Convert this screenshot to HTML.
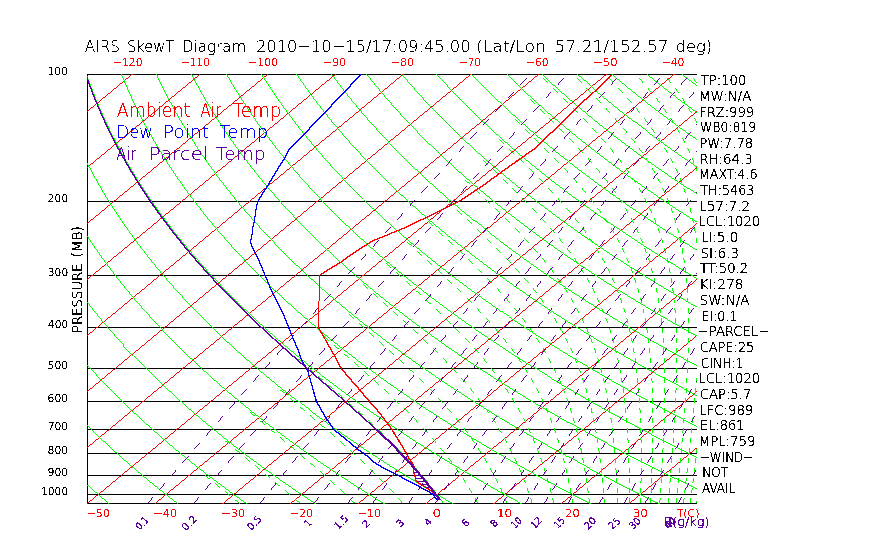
<!DOCTYPE html>
<html><head><meta charset="utf-8"><title>AIRS SkewT Diagram</title><style>html,body{margin:0;padding:0;background:#fff;width:870px;height:560px;overflow:hidden}svg{display:block}text{font-family:"DejaVu Sans","Liberation Sans",sans-serif;font-weight:200;stroke-width:0.2px}</style></head><body>
<svg width="870" height="560" viewBox="0 0 870 560">
<rect width="870" height="560" fill="#fff"/>
<defs><clipPath id="c"><rect x="87" y="74" width="610" height="430"/></clipPath><filter id="th" filterUnits="userSpaceOnUse" x="0" y="0" width="870" height="560" color-interpolation-filters="sRGB"><feComponentTransfer><feFuncA type="discrete" tableValues="0 1 1 1 1"/></feComponentTransfer></filter><filter id="tt" filterUnits="userSpaceOnUse" x="0" y="0" width="870" height="560" color-interpolation-filters="sRGB"><feComponentTransfer><feFuncA type="discrete" tableValues="0 0 1 1 1"/></feComponentTransfer></filter></defs>
<path fill="none" stroke="#000" stroke-width="1" shape-rendering="crispEdges" d="M87,74.5H697M87,201.5H697M87,275.5H697M87,327.5H697M87,368.5H697M87,401.5H697M87,429.5H697M87,453.5H697M87,475.5H697M87,494.5H697M87,503.5H697M87.5,74V504"/>
<g clip-path="url(#c)"><g filter="url(#th)" fill="none" shape-rendering="crispEdges">
<path stroke="#ff0000" stroke-width="0.75" d="M75.06,65.49 -464.75,511.9M142.81,65.49 -397,511.9M210.56,65.49 -329.25,511.9M278.31,65.49 -261.5,511.9M346.06,65.49 -193.75,511.9M413.81,65.49 -126,511.9M481.56,65.49 -58.25,511.9M549.31,65.49 9.5,511.9M617.06,65.49 77.25,511.9M684.81,65.49 145,511.9M752.56,65.49 212.75,511.9M820.31,65.49 280.5,511.9M888.06,65.49 348.25,511.9M955.81,65.49 416,511.9M1023.56,65.49 483.75,511.9M1091.31,65.49 551.5,511.9M1159.06,65.49 619.25,511.9M1226.81,65.49 687,511.9"/>
<path stroke="#00ff00" stroke-width="0.7" d="M34.21,433.78 45,444.94 56.22,456.1 67.88,467.26M73.35,411.46 84.36,422.62 95.8,433.78M99.28,377.98 110.03,389.14 121.21,400.3 132.82,411.46M133.52,355.66 144.39,366.82 155.7,377.98 167.45,389.14M165.63,333.34 176.6,344.5 188,355.66M195.75,311.02 206.78,322.18 218.23,333.34M213.4,277.54 224.02,288.7 235.07,299.86 246.55,311.02M239.94,255.22 250.55,266.38 261.59,277.54 273.06,288.7M275.48,244.06 286.48,255.22 297.91,266.38M298.89,221.74 309.83,232.9 321.2,244.06M320.91,199.41 331.76,210.58 343.04,221.74 354.76,232.9M341.64,177.09 352.38,188.25 363.54,199.41 375.15,210.58M361.16,154.77 371.77,165.93 382.8,177.09 394.27,188.25M390.03,143.61 400.91,154.77 412.22,165.93M407.24,121.29 417.95,132.45 429.08,143.61 440.65,154.77M434.01,110.13 444.95,121.29 456.33,132.45M449.18,87.81 459.91,98.97 471.07,110.13 482.67,121.29M474.02,76.65 484.96,87.81 496.32,98.97M498.06,65.49 509.18,76.65 520.74,87.81M532.61,65.49 544.34,76.65"/><path stroke="#00ff00" stroke-width="0.75" d="M-4.81,389.14 4.34,400.3 13.88,411.46 23.84,422.62 34.21,433.78M67.88,467.26 79.98,478.42 92.54,489.58 105.56,500.74 119.04,511.9M33.51,366.82 42.85,377.98 52.61,389.14 62.77,400.3 73.35,411.46M95.8,433.78 107.68,444.94 120.01,456.1 132.79,467.26 146.04,478.42M60.42,333.34 69.53,344.5 79.03,355.66 88.95,366.82 99.28,377.98M132.82,411.46 144.88,422.62 157.39,433.78 170.36,444.94 183.79,456.1M94.16,311.02 103.39,322.18 113.02,333.34 123.06,344.5 133.52,355.66M167.45,389.14 179.64,400.3 192.29,411.46 205.4,422.62 218.97,433.78M125.93,288.7 135.24,299.86 144.96,311.02 155.08,322.18 165.63,333.34M188,355.66 199.84,366.82 212.12,377.98 224.87,389.14 238.08,400.3 251.75,411.46M155.84,266.38 165.21,277.54 174.97,288.7 185.15,299.86 195.75,311.02M218.23,333.34 230.13,344.5 242.48,355.66 255.28,366.82 268.55,377.98M184.02,244.06 193.41,255.22 203.2,266.38 213.4,277.54M246.55,311.02 258.47,322.18 270.84,333.34 283.66,344.5 296.96,355.66M210.59,221.74 219.97,232.9 229.75,244.06 239.94,255.22M273.06,288.7 284.98,299.86 297.34,311.02 310.16,322.18 323.44,333.34M235.65,199.41 244.99,210.58 254.74,221.74 264.9,232.9 275.48,244.06M297.91,266.38 309.79,277.54 322.11,288.7 334.89,299.86 348.13,311.02M259.31,177.09 268.59,188.25 278.28,199.41 288.38,210.58 298.89,221.74M321.2,244.06 333.01,255.22 345.27,266.38 357.98,277.54 371.15,288.7 384.8,299.86M281.67,154.77 290.87,165.93 300.47,177.09 310.49,188.25 320.91,199.41M354.76,232.9 366.93,244.06 379.54,255.22 392.62,266.38 406.17,277.54M311.91,143.61 321.41,154.77 331.32,165.93 341.64,177.09M375.15,210.58 387.2,221.74 399.69,232.9 412.65,244.06 426.08,255.22M331.82,121.29 341.19,132.45 350.97,143.61 361.16,154.77M394.27,188.25 406.18,199.41 418.53,210.58 431.35,221.74 444.63,232.9M350.67,98.97 359.9,110.13 369.53,121.29 379.57,132.45 390.03,143.61M412.22,165.93 423.96,177.09 436.16,188.25 448.81,199.41 461.92,210.58 475.5,221.74M377.61,87.81 387.08,98.97 396.96,110.13 407.24,121.29M440.65,154.77 452.66,165.93 465.13,177.09 478.05,188.25 491.44,199.41M394.42,65.49 403.71,76.65 413.4,87.81 423.5,98.97 434.01,110.13M456.33,132.45 468.14,143.61 480.4,154.77 493.11,165.93 506.29,177.09 519.94,188.25M428.97,65.49 438.87,76.65 449.18,87.81M482.67,121.29 494.7,132.45 507.2,143.61 520.15,154.77 533.56,165.93M463.52,65.49 474.02,76.65M496.32,98.97 508.13,110.13 520.38,121.29 533.08,132.45 546.25,143.61 559.89,154.77M520.74,87.81 532.74,98.97 545.18,110.13 558.09,121.29 571.46,132.45M544.34,76.65 556.52,87.81 569.15,98.97 582.24,110.13 595.8,121.29M567.16,65.49 579.5,76.65 592.3,87.81 605.56,98.97M601.71,65.49 614.66,76.65 628.08,87.81M636.26,65.49 649.82,76.65"/><path stroke="#00ff00" stroke-width="0.8" d="M-29.93,355.66 -21.94,366.82 -13.57,377.98 -4.81,389.14M0.01,322.18 7.81,333.34 15.99,344.5 24.55,355.66 33.51,366.82M146.04,478.42 159.77,489.58 173.97,500.74 188.66,511.9M35.42,299.86 43.37,311.02 51.7,322.18 60.42,333.34M183.79,456.1 197.7,467.26 212.1,478.42 226.99,489.58 242.38,500.74 258.28,511.9M61.13,266.38 68.82,277.54 76.88,288.7 85.33,299.86 94.16,311.02M218.97,433.78 233.03,444.94 247.58,456.1 262.62,467.26 278.16,478.42 294.22,489.58M92.57,244.06 100.34,255.22 108.49,266.38 117.01,277.54 125.93,288.7M251.75,411.46 265.91,422.62 280.56,433.78 295.71,444.94 311.36,456.1 327.53,467.26M122.29,221.74 130.1,232.9 138.3,244.06 146.87,255.22 155.84,266.38M268.55,377.98 282.29,389.14 296.51,400.3 311.22,411.46 326.43,422.62 342.15,433.78 358.38,444.94M150.39,199.41 158.22,210.58 166.44,221.74 175.04,232.9 184.02,244.06M296.96,355.66 310.72,366.82 324.97,377.98 339.71,389.14 354.95,400.3 370.69,411.46 386.95,422.62M176.98,177.09 184.81,188.25 193.02,199.41 201.61,210.58 210.59,221.74M323.44,333.34 337.2,344.5 351.44,355.66 366.17,366.82 381.39,377.98 397.13,389.14 413.38,400.3M202.17,154.77 209.97,165.93 218.15,177.09 226.7,188.25 235.65,199.41M348.13,311.02 361.85,322.18 376.05,333.34 390.73,344.5 405.92,355.66 421.61,366.82 437.82,377.98M226.06,132.45 233.8,143.61 241.92,154.77 250.42,165.93 259.31,177.09M384.8,299.86 398.93,311.02 413.54,322.18 428.65,333.34 444.27,344.5 460.4,355.66M248.73,110.13 256.4,121.29 264.44,132.45 272.86,143.61 281.67,154.77M406.17,277.54 420.2,288.7 434.71,299.86 449.72,311.02 465.23,322.18 481.26,333.34M277.84,98.97 285.79,110.13 294.11,121.29 302.81,132.45 311.91,143.61M426.08,255.22 439.98,266.38 454.37,277.54 469.24,288.7 484.62,299.86 500.51,311.02M298.23,76.65 306.05,87.81 314.26,98.97 322.84,110.13 331.82,121.29M444.63,232.9 458.38,244.06 472.61,255.22 487.34,266.38 502.56,277.54 518.29,288.7 534.54,299.86M325.32,65.49 333.39,76.65 341.83,87.81 350.67,98.97M475.5,221.74 489.56,232.9 504.1,244.06 519.15,255.22 534.69,266.38 550.75,277.54M359.87,65.49 368.55,76.65 377.61,87.81M491.44,199.41 505.3,210.58 519.65,221.74 534.49,232.9 549.83,244.06 565.68,255.22M519.94,188.25 534.07,199.41 548.69,210.58 563.8,221.74 579.42,232.9 595.56,244.06M533.56,165.93 547.46,177.09 561.83,188.25 576.7,199.41 592.07,210.58 607.95,221.74M559.89,154.77 574.01,165.93 588.62,177.09 603.72,188.25 619.33,199.41 635.46,210.58M571.46,132.45 585.31,143.61 599.64,154.77 614.46,165.93 629.78,177.09 645.62,188.25M595.8,121.29 609.84,132.45 624.36,143.61 639.39,154.77 654.91,165.93 670.95,177.09M605.56,98.97 619.3,110.13 633.51,121.29 648.22,132.45 663.42,143.61 679.13,154.77 695.36,165.93M628.08,87.81 641.98,98.97 656.35,110.13 671.22,121.29 686.6,132.45 702.48,143.61M649.82,76.65 663.86,87.81 678.39,98.97 693.41,110.13 708.94,121.29 724.97,132.45M670.81,65.49 684.98,76.65 699.64,87.81 714.8,98.97 730.47,110.13 746.65,121.29M705.36,65.49 720.14,76.65 735.42,87.81 751.21,98.97"/><path stroke="#00ff00" stroke-width="0.85" d="M-64.4,299.86 -58.22,311.02 -51.68,322.18 -44.79,333.34 -37.54,344.5 -29.93,355.66M-27.57,277.54 -21.21,288.7 -14.49,299.86 -7.42,311.02 0.01,322.18M7.27,255.22 13.77,266.38 20.63,277.54 27.84,288.7 35.42,299.86M33.98,221.74 40.24,232.9 46.85,244.06 53.81,255.22 61.13,266.38M294.22,489.58 310.8,500.74 327.91,511.9M65.12,199.41 71.45,210.58 78.13,221.74 85.17,232.9 92.57,244.06M327.53,467.26 344.22,478.42 361.44,489.58 379.21,500.74 397.53,511.9M94.65,177.09 101.03,188.25 107.76,199.41 114.84,210.58 122.29,221.74M358.38,444.94 375.14,456.1 392.44,467.26 410.28,478.42 428.67,489.58 447.62,500.74 467.15,511.9M122.68,154.77 129.07,165.93 135.82,177.09 142.92,188.25 150.39,199.41M386.95,422.62 403.74,433.78 421.06,444.94 438.93,456.1 457.35,467.26 476.34,478.42 495.89,489.58 516.04,500.74M149.3,132.45 155.69,143.61 162.43,154.77 169.52,165.93 176.98,177.09M413.38,400.3 430.16,411.46 447.47,422.62 465.33,433.78 483.74,444.94 502.71,456.1 522.26,467.26 542.39,478.42M174.61,110.13 180.97,121.29 187.68,132.45 194.74,143.61 202.17,154.77M437.82,377.98 454.55,389.14 471.82,400.3 489.63,411.46 507.99,422.62 526.91,433.78 546.41,444.94 566.5,456.1M198.71,87.81 205.02,98.97 211.67,110.13 218.68,121.29 226.06,132.45M460.4,355.66 477.05,366.82 494.24,377.98 511.97,389.14 530.25,400.3 549.09,411.46 568.51,422.62 588.5,433.78M221.67,65.49 227.91,76.65 234.49,87.81 241.43,98.97 248.73,110.13M481.26,333.34 497.8,344.5 514.88,355.66 532.5,366.82 550.66,377.98 569.39,389.14 588.69,400.3 608.56,411.46M256.22,65.49 263.07,76.65 270.27,87.81 277.84,98.97M500.51,311.02 516.92,322.18 533.86,333.34 551.34,344.5 569.36,355.66 587.94,366.82 607.09,377.98 626.81,389.14M290.77,65.49 298.23,76.65M534.54,299.86 551.31,311.02 568.61,322.18 586.47,333.34 604.87,344.5 623.84,355.66 643.38,366.82 663.51,377.98M550.75,277.54 567.33,288.7 584.45,299.86 602.1,311.02 620.31,322.18 639.07,333.34 658.41,344.5 678.32,355.66M565.68,255.22 582.05,266.38 598.95,277.54 616.38,288.7 634.36,299.86 652.89,311.02 672,322.18 691.68,333.34M595.56,244.06 612.21,255.22 629.41,266.38 647.14,277.54 665.42,288.7 684.27,299.86 703.69,311.02 723.69,322.18M607.95,221.74 624.35,232.9 641.28,244.06 658.75,255.22 676.76,266.38 695.33,277.54 714.47,288.7 734.18,299.86M635.46,210.58 652.11,221.74 669.29,232.9 687.01,244.06 705.28,255.22 724.12,266.38 743.52,277.54 763.51,288.7M645.62,188.25 661.97,199.41 678.84,210.58 696.26,221.74 714.22,232.9 732.73,244.06 751.82,255.22 771.47,266.38M670.95,177.09 687.51,188.25 704.6,199.41 722.23,210.58 740.41,221.74 759.15,232.9 778.46,244.06 798.35,255.22M695.36,165.93 712.11,177.09 729.4,188.25 747.23,199.41 765.61,210.58 784.56,221.74 804.08,232.9 824.19,244.06M702.48,143.61 718.88,154.77 735.81,165.93 753.27,177.09 771.29,188.25 789.86,199.41 809,210.58 828.71,221.74M724.97,132.45 741.53,143.61 758.62,154.77 776.26,165.93 794.44,177.09 813.18,188.25 832.49,199.41 852.38,210.58M746.65,121.29 763.35,132.45 780.59,143.61 798.37,154.77 816.71,165.93 835.6,177.09 855.07,188.25 875.12,199.41M751.21,98.97 767.52,110.13 784.36,121.29 801.73,132.45 819.65,143.61 838.12,154.77 857.15,165.93 876.77,177.09"/><path stroke="#00ff00" stroke-width="0.9" d="M-85.8,255.22 -80.94,266.38 -75.76,277.54 -70.25,288.7 -64.4,299.86M-54.32,221.74 -49.62,232.9 -44.61,244.06 -39.26,255.22 -33.58,266.38 -27.57,277.54M-20.14,199.41 -15.32,210.58 -10.17,221.74 -4.69,232.9 1.12,244.06 7.27,255.22M7.73,165.93 12.33,177.09 17.25,188.25 22.49,199.41 28.07,210.58 33.98,221.74M38.52,143.61 43.19,154.77 48.18,165.93 53.49,177.09 59.14,188.25 65.12,199.41M67.84,121.29 72.55,132.45 77.58,143.61 82.93,154.77 88.62,165.93 94.65,177.09M95.78,98.97 100.5,110.13 105.55,121.29 110.92,132.45 116.63,143.61 122.68,154.77M516.04,500.74 536.78,511.9M122.43,76.65 127.15,87.81 132.19,98.97 137.56,110.13 143.26,121.29 149.3,132.45M542.39,478.42 563.12,489.58 584.45,500.74 606.4,511.9M152.57,65.49 157.59,76.65 162.93,87.81 168.6,98.97 174.61,110.13M566.5,456.1 587.17,467.26 608.45,478.42 630.35,489.58 652.87,500.74 676.02,511.9M187.12,65.49 192.75,76.65 198.71,87.81M588.5,433.78 609.09,444.94 630.28,456.1 652.08,467.26 674.51,478.42 697.57,489.58 721.28,500.74 745.64,511.9M608.56,411.46 629.03,422.62 650.09,433.78 671.77,444.94 694.06,456.1 716.99,467.26 740.57,478.42 764.8,489.58 789.69,500.74 815.27,511.9M626.81,389.14 647.12,400.3 668.03,411.46 689.54,422.62 711.68,433.78 734.44,444.94 757.85,456.1 781.91,467.26 806.63,478.42 832.02,489.58 858.11,500.74 884.89,511.9M663.51,377.98 684.23,389.14 705.56,400.3 727.5,411.46 750.06,422.62 773.27,433.78 797.12,444.94 821.63,456.1 846.82,467.26 872.69,478.42 899.25,489.58M678.32,355.66 698.83,366.82 719.93,377.98 741.65,389.14 763.99,400.3 786.96,411.46 810.58,422.62 834.86,433.78 859.8,444.94 885.42,456.1 911.73,467.26 938.74,478.42M691.68,333.34 711.94,344.5 732.8,355.66 754.27,366.82 776.36,377.98 799.07,389.14 822.43,400.3 846.43,411.46 871.1,422.62 896.44,433.78 922.47,444.94 949.2,456.1M723.69,322.18 744.28,333.34 765.47,344.5 787.28,355.66 809.71,366.82 832.78,377.98 856.49,389.14 880.86,400.3 905.9,411.46 931.62,422.62 958.03,433.78 985.15,444.94M734.18,299.86 754.48,311.02 775.38,322.18 796.88,333.34 819.01,344.5 841.76,355.66 865.16,366.82 889.2,377.98 913.91,389.14 939.3,400.3 965.37,411.46 992.14,422.62M763.51,288.7 784.09,299.86 805.28,311.02 827.07,322.18 849.49,333.34 872.54,344.5 896.24,355.66 920.6,366.82 945.62,377.98 971.33,389.14 997.73,400.3 1024.83,411.46M771.47,266.38 791.72,277.54 812.56,288.7 834.01,299.86 856.07,311.02 878.76,322.18 902.09,333.34 926.08,344.5 950.72,355.66 976.04,366.82 1002.05,377.98 1028.75,389.14M798.35,255.22 818.83,266.38 839.91,277.54 861.6,288.7 883.92,299.86 906.86,311.02 930.45,322.18 954.7,333.34 979.61,344.5 1005.2,355.66 1031.49,366.82 1058.47,377.98M824.19,244.06 844.88,255.22 866.19,266.38 888.1,277.54 910.65,288.7 933.83,299.86 957.66,311.02 982.14,322.18 1007.3,333.34 1033.15,344.5 1059.68,355.66M828.71,221.74 849.01,232.9 869.91,244.06 891.42,255.22 913.54,266.38 936.3,277.54 959.69,288.7 983.74,299.86 1008.45,311.02 1033.84,322.18 1059.91,333.34 1086.68,344.5M852.38,210.58 872.86,221.74 893.95,232.9 915.64,244.06 937.95,255.22 960.9,266.38 984.49,277.54 1008.74,288.7 1033.65,299.86 1059.24,311.02 1085.53,322.18 1112.51,333.34M875.12,199.41 895.77,210.58 917.02,221.74 938.88,232.9 961.36,244.06 984.49,255.22 1008.26,266.38 1032.68,277.54 1057.78,288.7 1083.56,299.86 1110.04,311.02M876.77,177.09 896.96,188.25 917.75,199.41 939.15,210.58 961.17,221.74 983.81,232.9 1007.09,244.06 1031.02,255.22 1055.61,266.38 1080.88,277.54 1106.83,288.7 1133.47,299.86"/><path stroke="#00ff00" stroke-width="0.95" d="M-111.16,177.09 -108.43,188.25 -105.4,199.41 -102.09,210.58 -98.47,221.74 -94.56,232.9 -90.33,244.06 -85.8,255.22M-78.65,143.61 -76.05,154.77 -73.17,165.93 -70,177.09 -66.54,188.25 -62.77,199.41 -58.7,210.58 -54.32,221.74M-45.3,121.29 -42.59,132.45 -39.59,143.61 -36.31,154.77 -32.72,165.93 -28.84,177.09 -24.64,188.25 -20.14,199.41M-13.46,98.97 -10.67,110.13 -7.59,121.29 -4.21,132.45 -0.54,143.61 3.44,154.77 7.73,165.93M14.38,65.49 16.95,76.65 19.81,87.81 22.95,98.97 26.39,110.13 30.13,121.29 34.17,132.45 38.52,143.61M48.93,65.49 52.11,76.65 55.59,87.81 59.36,98.97 63.44,110.13 67.84,121.29M83.48,65.49 87.27,76.65 91.37,87.81 95.78,98.97M118.03,65.49 122.43,76.65M899.25,489.58 926.52,500.74 954.51,511.9M938.74,478.42 966.48,489.58 994.93,500.74 1024.14,511.9M949.2,456.1 976.64,467.26 1004.8,478.42 1033.7,489.58 1063.35,500.74 1093.76,511.9M985.15,444.94 1012.99,456.1 1041.55,467.26 1070.86,478.42 1100.93,489.58 1131.76,500.74 1163.38,511.9M992.14,422.62 1019.62,433.78 1047.83,444.94 1076.77,456.1 1106.46,467.26 1136.92,478.42 1168.15,489.58 1200.18,500.74 1233,511.9M1024.83,411.46 1052.66,422.62 1081.21,433.78 1110.5,444.94 1140.55,456.1 1171.37,467.26 1202.98,478.42 1235.38,489.58 1268.59,500.74 1302.63,511.9M1028.75,389.14 1056.16,400.3 1084.3,411.46 1113.17,422.62 1142.8,433.78 1173.18,444.94 1204.34,456.1 1236.29,467.26 1269.04,478.42 1302.6,489.58 1337,500.74 1372.25,511.9M1058.47,377.98 1086.17,389.14 1114.6,400.3 1143.77,411.46 1173.69,422.62 1204.38,433.78 1235.86,444.94 1268.12,456.1 1301.2,467.26 1335.09,478.42 1369.83,489.58 1405.42,500.74 1441.87,511.9M1059.68,355.66 1086.93,366.82 1114.89,377.98 1143.59,389.14 1173.03,400.3 1203.24,411.46 1234.21,422.62 1265.97,433.78 1298.53,444.94 1331.91,456.1 1366.11,467.26 1401.15,478.42 1437.06,489.58 1473.83,500.74 1511.5,511.9M1086.68,344.5 1114.16,355.66 1142.37,366.82 1171.32,377.98 1201.01,389.14 1231.47,400.3 1262.7,411.46 1294.73,422.62 1327.56,433.78 1361.21,444.94 1395.69,456.1 1431.02,467.26 1467.21,478.42 1504.28,489.58 1542.25,500.74 1581.12,511.9M1112.51,333.34 1140.22,344.5 1168.64,355.66 1197.82,366.82 1227.74,377.98 1258.43,389.14 1289.9,400.3 1322.17,411.46 1355.25,422.62 1389.15,433.78 1423.88,444.94 1459.47,456.1 1495.93,467.26 1533.27,478.42 1571.51,489.58 1610.66,500.74 1650.74,511.9M1110.04,311.02 1137.22,322.18 1165.12,333.34 1193.75,344.5 1223.13,355.66 1253.26,366.82 1284.16,377.98 1315.85,389.14 1348.34,400.3 1381.64,411.46 1415.77,422.62 1450.74,433.78 1486.56,444.94 1523.26,456.1 1560.84,467.26 1599.33,478.42 1638.73,489.58 1679.07,500.74 1720.36,511.9M1133.47,299.86 1160.83,311.02 1188.91,322.18 1217.72,333.34 1247.28,344.5 1277.61,355.66 1308.7,366.82 1340.59,377.98 1373.27,389.14 1406.77,400.3 1441.11,411.46 1476.29,422.62 1512.32,433.78 1549.24,444.94 1587.04,456.1 1625.75,467.26 1665.39,478.42 1705.96,489.58 1747.49,500.74 1789.99,511.9"/><path stroke="#00ff00" stroke-width="1" d="M-123.82,65.49 -123.69,76.65 -123.32,87.81 -122.7,98.97 -121.84,110.13 -120.72,121.29 -119.34,132.45 -117.71,143.61 -115.8,154.77 -113.62,165.93 -111.16,177.09M-89.27,65.49 -88.53,76.65 -87.54,87.81 -86.29,98.97 -84.78,110.13 -83.01,121.29 -80.97,132.45 -78.65,143.61M-54.72,65.49 -53.37,76.65 -51.76,87.81 -49.88,98.97 -47.73,110.13 -45.3,121.29M-20.17,65.49 -18.21,76.65 -15.98,87.81 -13.46,98.97"/>
<path stroke="#00ff00" stroke-width="0.7" d="M354.98,503.43 351.27,499.85M384.45,483.43 383.08,482 379.58,478.43M374.58,473.45 372.39,471.28 369.58,468.56M402.33,453.42 398.9,449.85 397.5,448.43M392.55,443.43 391.84,442.71 388.22,439.14 387.56,438.49M382.56,433.65 380.83,431.99M418.8,423.43 416.76,421.28 414,418.43M409.08,413.43 406.21,410.57 404.08,408.46M399.08,403.6 398.9,403.42 395.16,399.85M433.28,392.71 429.85,389.14 429.15,388.43M424.23,383.43 422.8,381.99 419.23,378.46M414.23,373.6 411.83,371.28 409.23,368.81M447.88,363.43 445.13,360.56 443.04,358.43M438.09,353.43 438.09,353.42 434.49,349.85 433.09,348.48M428.09,343.63 427.14,342.71 423.4,339.13M460.59,333.43 459.21,331.99 455.71,328.43M450.72,323.44 448.54,321.28 445.72,318.52M440.72,313.69 437.45,310.56M479.03,310.56 476.99,308.43M472.15,303.43 472.14,303.42 468.61,299.85 467.19,298.43M462.19,293.47 461.41,292.7 457.75,289.13 457.19,288.59M452.19,283.79 450.31,281.99M492.3,283.43 490.94,281.99 487.49,278.43M482.55,273.43 480.41,271.27 477.56,268.45M472.56,263.54 469.49,260.56 467.56,258.71M462.56,253.92 462.04,253.42M508.64,260.56 506.61,258.43M501.8,253.43 501.79,253.42 498.29,249.85 496.87,248.43M491.89,243.44 491.15,242.7 487.52,239.13 486.89,238.52M481.89,233.66 480.16,231.99 476.89,228.84M471.89,224.06 468.96,221.27M519.95,233.43 518.58,231.99 515.13,228.43M510.21,223.43 508.07,221.27 505.22,218.44M500.22,213.5 497.21,210.56 495.22,208.62M490.22,203.78 489.84,203.42 486.13,199.84 485.22,198.97M480.22,194.19 478.67,192.7 475.22,189.41M470.22,184.63 467.45,181.99 465.22,179.85M534.42,210.56 532.38,208.43M527.54,203.43 527.53,203.42 524.01,199.84 522.6,198.43M517.61,193.44 516.87,192.7 513.26,189.13 512.61,188.49M507.61,183.6 505.96,181.99 502.61,178.73M497.61,173.89 494.9,171.27 492.61,169.07M487.61,164.24 487.5,164.13 483.8,160.56 482.61,159.41M549.38,189.13 548.71,188.43M543.92,183.43 542.53,181.99 539.05,178.43M534.1,173.43 531.96,171.27 529.11,168.44M524.11,163.49 521.14,160.56 519.11,158.57M514.11,153.68 513.84,153.41 510.18,149.84 509.11,148.8M504.11,143.93 502.85,142.7 499.19,139.13 499.11,139.05M559.44,163.43 556.68,160.56 554.61,158.43M549.72,153.43 549.71,153.41 546.17,149.84 544.76,148.43M539.77,143.43 539.03,142.7 535.43,139.13 534.77,138.47M529.77,133.53 528.19,131.98 524.77,128.61M519.77,123.68 517.32,121.27 514.77,118.75M573.45,142.7 570.03,139.13 569.35,138.43M564.49,133.43 563.09,131.98 559.58,128.43M554.62,123.43 552.47,121.27 549.63,118.43M544.63,113.44 541.72,110.56 539.63,108.47M534.63,103.5 534.54,103.41 530.95,99.84 529.63,98.52M586.04,121.27 583.32,118.43M578.49,113.43 575.7,110.56 573.61,108.43M568.69,103.43 568.67,103.41 565.14,99.84 563.73,98.43M558.75,93.43 558.03,92.7 554.47,89.13 553.77,88.43M548.79,83.43 547.36,81.98 543.83,78.43M597.9,99.84 596.55,98.43M591.75,93.43 591.05,92.7 587.58,89.13 586.89,88.43M582,83.43 580.59,81.98 577.08,78.43"/><path stroke="#00ff00" stroke-width="0.75" d="M-82.4,83.65 -80.38,81.98 -77.4,79.51M-72.4,75.38 -71.74,74.84M219.55,487.14 217.63,485.57 214.55,483.05M209.55,478.95 208.92,478.42 204.59,474.85 204.55,474.82M300.22,503.43 296.05,499.85 295.22,499.15M290.22,494.91 287.62,492.71 285.22,490.69M280.22,486.5 279.1,485.57 275.22,482.34M270.22,478.18 266.2,474.85 265.22,474.04M260.22,469.9 257.56,467.71 255.22,465.77M250.22,461.63 248.93,460.57 245.22,457.49M240.22,453.34 236.03,449.85 235.22,449.17M230.22,444.98 227.51,442.71 225.22,440.78M351.27,499.85 349.98,498.63M344.98,493.92 343.69,492.71 339.98,489.29M334.98,484.74 331.94,482 329.98,480.25M324.98,475.82 323.89,474.85 319.98,471.43M314.98,467.09 311.56,464.14 309.98,462.79M304.98,458.52 303.19,457 299.98,454.27M294.98,450.04 294.76,449.85 290.52,446.28 289.98,445.83M284.98,441.62 282.03,439.14 279.98,437.42M274.98,433.22 273.53,431.99 269.98,429.01M264.98,424.8 260.82,421.28 259.98,420.57M254.98,416.33 252.41,414.14 249.98,412.06M402.75,503.43 399.63,499.85 398.36,498.43M393.86,493.43 393.21,492.71 389.89,489.14 389.22,488.43M364.58,463.77 361.19,460.57 359.58,459.07M354.58,454.45 353.47,453.42 349.58,449.89M344.58,445.4 341.56,442.71 339.58,440.96M334.58,436.56 333.45,435.57 329.58,432.2M324.58,427.87 321.08,424.85 319.58,423.56M314.58,419.28 312.75,417.71 309.58,415M304.58,410.73 304.39,410.57 300.2,406.99 299.58,406.47M294.58,402.2 291.83,399.85 289.58,397.92M284.58,393.64 283.5,392.71 279.58,389.34M420.37,473.43 418.54,471.28 416.06,468.43M411.61,463.43 409.02,460.57 407.03,458.43M402.34,453.43 402.33,453.42M380.83,431.99 377.56,428.9M372.56,424.24 369.36,421.28 367.56,419.64M362.56,415.1 361.5,414.14 357.56,410.6M352.56,406.16 349.46,403.42 347.56,401.75M342.56,397.37 341.31,396.28 337.56,393.01M332.56,388.67 328.98,385.56 327.56,384.33M322.56,380 320.73,378.42 317.56,375.68M312.56,371.34 312.48,371.28 308.37,367.71 307.56,367M302.56,362.64 300.18,360.56 297.56,358.26M442.05,449.85 440.88,448.43M436.74,443.43 436.14,442.71 433.07,439.14 432.45,438.43M428.03,433.43 426.75,431.99 423.49,428.43M395.16,399.85 394.08,398.82M389.08,394.13 387.56,392.71 384.08,389.49M379.08,384.92 375.85,381.99 374.08,380.4M369.08,375.91 367.89,374.85 364.08,371.46M359.08,367.03 355.79,364.13 354.08,362.63M349.08,358.23 347.67,356.99 344.08,353.84M339.08,349.45 335.46,346.28 334.08,345.06M329.08,340.65 327.35,339.13 324.08,336.23M451.92,413.43 449.49,410.57 447.63,408.43M443.21,403.43 443.21,403.42 439.96,399.85 438.64,398.43M433.96,393.43 433.28,392.71M404.23,364.1 400.44,360.56 399.23,359.45M394.23,354.86 392.66,353.42 389.23,350.31M384.23,345.79 380.81,342.71 379.23,341.3M374.23,336.83 372.81,335.56 369.23,332.37M364.23,327.92 360.78,324.85 359.23,323.48M354.23,319.02 352.76,317.7 349.23,314.56M470.77,389.14 470.18,388.43M465.98,383.43 464.76,381.99 461.66,378.43M457.19,373.43 455.24,371.28 452.6,368.43M423.4,339.13 423.09,338.85M418.09,334.14 415.8,331.99 413.09,329.48M408.09,324.86 408.08,324.85 404.18,321.28 403.09,320.29M398.09,315.74 396.32,314.13 393.09,311.22M388.09,306.7 384.45,303.42 383.09,302.2M378.09,297.69 376.52,296.28 373.09,293.18M368.09,288.66 364.68,285.56 363.09,284.11M487.33,363.43 484.99,360.56 483.2,358.43M478.95,353.43 478.95,353.42 475.82,349.85 474.55,348.43M470.02,343.43 469.36,342.71 466.04,339.13 465.37,338.43M437.45,310.56 435.72,308.93M430.72,304.21 429.88,303.42 426.04,299.85 425.72,299.55M420.72,294.92 418.31,292.7 415.72,290.33M410.72,285.75 410.52,285.56 406.61,281.99 405.72,281.18M400.72,276.62 398.78,274.85 395.72,272.05M390.72,267.48 387.07,264.13 385.72,262.89M499.39,333.43 498.21,331.99 495.18,328.43M490.82,323.43 488.92,321.28 486.34,318.43M481.72,313.43 479.03,310.56M450.31,281.99 447.19,279.03M442.19,274.33 438.93,271.27 437.19,269.66M432.19,265.01 431.25,264.13 427.39,260.56 427.19,260.38M422.19,255.76 419.65,253.42 417.19,251.14M412.19,246.52 411.92,246.27 408.07,242.7 407.19,241.89M516.39,310.56 514.62,308.43M510.43,303.43 510.43,303.42 507.34,299.85 506.09,298.43M501.62,293.43 500.97,292.7 497.68,289.13 497.02,288.43M462.04,253.42 458.27,249.85 457.56,249.17M452.56,244.46 450.69,242.7 447.56,239.77M442.56,235.09 439.24,231.99 437.56,230.42M432.56,225.75 431.59,224.84 427.78,221.27 427.56,221.07M528.95,283.43 527.76,281.99 524.75,278.43M520.4,273.43 518.5,271.27 515.92,268.43M511.33,263.43 508.64,260.56M468.96,221.27 466.89,219.31M461.89,214.58 461.41,214.13 457.63,210.56 456.89,209.85M451.89,205.13 450.07,203.42 446.89,200.4M544.18,260.56 542.4,258.43M538.17,253.43 538.17,253.42 535.06,249.85 533.8,248.43M529.3,243.43 528.65,242.7 525.35,239.13 524.68,238.43M559.75,239.13 559.17,238.43M555.02,233.43 553.81,231.99 550.74,228.43M546.32,223.43 544.39,221.27 541.78,218.43M537.13,213.43 534.42,210.56M571.02,213.43 568.63,210.56 566.81,208.43M562.47,203.43 562.46,203.42 559.28,199.84 557.99,198.43M553.4,193.43 552.73,192.7 549.38,189.13M585.66,192.7 582.68,189.13 582.08,188.43M577.78,183.43 576.53,181.99 573.37,178.43M568.82,173.43 566.84,171.27 564.18,168.43M598.98,171.27 596.61,168.43M592.35,163.43 589.85,160.56 587.96,158.43M583.46,153.43 583.45,153.41 580.17,149.84 578.84,148.43M574.14,143.43 573.45,142.7M614.54,153.41 611.62,149.84 610.43,148.43M606.19,143.43 605.57,142.7 602.45,139.13 601.82,138.43M597.34,133.43 596.03,131.98 592.76,128.43M588.07,123.43 586.04,121.27M626.54,131.98 623.6,128.43M619.35,123.43 617.5,121.27 615,118.43M610.52,113.43 607.91,110.56 605.95,108.43M601.29,103.43 601.28,103.41 597.9,99.84M640.23,113.43 637.89,110.56 636.11,108.43M631.87,103.43 631.86,103.41 628.76,99.84 627.5,98.43M623.03,93.43 622.38,92.7 619.11,89.13 618.46,88.43M613.81,83.43 612.46,81.98 609.09,78.43M651.58,92.7 648.62,89.13 648.02,88.43M643.76,83.43 642.51,81.98 639.38,78.43"/><path stroke="#00ff00" stroke-width="0.8" d="M239.55,503.43 235.16,499.85 234.55,499.36M229.55,495.29 226.38,492.71 224.55,491.22M443.49,503.43 440.98,499.85 439.95,498.43M436.3,493.43 435.77,492.71 433.07,489.14 432.51,488.43M428.6,483.43 427.46,482 424.56,478.43M459.62,473.43 458.15,471.28 456.14,468.43M452.53,463.43 450.41,460.57 448.78,458.43M444.91,453.43 444.91,453.42 442.05,449.85M474.32,442.71 471.84,439.14 471.33,438.43M467.72,433.43 466.67,431.99 463.98,428.43M460.09,423.43 458.39,421.28 456.08,418.43M489.05,413.43 487.08,410.57 485.55,408.43M481.92,403.43 481.92,403.42 479.24,399.85 478.14,398.43M474.23,393.43 473.66,392.71 470.77,389.14M502.4,383.43 501.41,381.99 498.85,378.43M495.15,373.43 493.52,371.28 491.31,368.43M519.82,360.56 518.36,358.43M514.86,353.43 514.86,353.42 512.27,349.85 511.2,348.43M507.41,343.43 506.86,342.71 504.05,339.13 503.48,338.43M532.51,331.99 530.01,328.43M526.38,323.43 524.78,321.28 522.61,318.43M518.69,313.43 516.39,310.56M544.36,303.43 544.35,303.42 541.77,299.85 540.72,298.43M536.94,293.43 536.39,292.7 533.59,289.13 533.02,288.43M561.43,283.43 560.45,281.99 557.93,278.43M554.26,273.43 552.65,271.27 550.46,268.43M546.5,263.43 544.18,260.56M575.79,260.56 574.3,258.43M570.75,253.43 570.74,253.42 568.11,249.85 567.03,248.43M563.17,243.43 562.61,242.7 559.75,239.13M590.43,239.13 589.94,238.43M586.45,233.43 585.43,231.99 582.83,228.43M579.03,223.43 577.37,221.27 575.1,218.43M601.46,213.43 599.43,210.56 597.88,208.43M594.16,203.43 594.15,203.42 591.39,199.84 590.27,198.43M586.25,193.43 585.66,192.7M615.81,193.43 615.31,192.7 612.78,189.13 612.27,188.43M608.57,183.43 607.49,181.99 604.74,178.43M600.74,173.43 598.98,171.27M629.54,173.43 628.05,171.27 626.02,168.43M622.34,163.43 620.17,160.56 618.52,158.43M614.55,153.43 614.54,153.41M642.69,153.41 640.19,149.84 639.17,148.43M635.5,143.43 634.96,142.7 632.22,139.13 631.67,138.43M627.7,133.43 626.54,131.98M655.27,133.43 654.28,131.98 651.75,128.43M648.05,123.43 646.42,121.27 644.22,118.43M667.32,113.43 665.3,110.56 663.75,108.43M660.04,103.43 660.03,103.41 657.29,99.84 656.17,98.43M652.16,93.43 651.58,92.7M678.83,93.43 678.32,92.7 675.74,89.13 675.22,88.43M671.46,83.43 670.35,81.98 667.56,78.43"/><path stroke="#00ff00" stroke-width="0.85" d="M476.01,499.85 475.2,498.43M472.32,493.43 471.91,492.71 469.77,489.14 469.33,488.43M466.21,483.43 465.31,482 462.99,478.43M491.85,471.28 490.27,468.43M487.42,463.43 485.74,460.57 484.45,458.43M481.36,453.43 481.36,453.42 479.08,449.85 478.14,448.43M474.8,443.43 474.32,442.71M504.98,439.14 504.57,438.43M501.72,433.43 500.89,431.99 498.75,428.43M495.65,423.43 494.28,421.28 492.42,418.43M519.35,410.57 518.15,408.43M515.27,403.43 515.27,403.42 513.13,399.85 512.25,398.43M509.11,393.43 508.65,392.71 506.3,389.14 505.82,388.43M533.02,381.99 531,378.43M528.04,373.43 526.73,371.28 524.95,368.43M521.73,363.43 519.82,360.56M546,353.43 546,353.42 543.93,349.85 543.07,348.43M540.02,343.43 539.58,342.71 537.29,339.13 536.83,338.43M533.49,333.43 532.51,331.99M562.32,331.99 560.33,328.43M557.41,323.43 556.13,321.28 554.36,318.43M551.17,313.43 549.28,310.56 547.83,308.43M574.01,303.43 574,303.42 571.93,299.85 571.07,298.43M568.01,293.43 567.56,292.7 565.27,289.13 564.8,288.43M589.08,281.99 587.06,278.43M584.09,273.43 582.77,271.27 580.98,268.43M577.72,263.43 575.79,260.56M603.55,260.56 602.36,258.43M599.49,253.43 599.48,253.42 597.33,249.85 596.45,248.43M593.27,243.43 592.81,242.7 590.43,239.13M617.45,239.13 617.06,238.43M614.24,233.43 613.41,231.99 611.28,228.43M608.15,223.43 606.77,221.27 604.89,218.43M628.42,213.43 626.77,210.56 625.5,208.43M622.43,203.43 622.43,203.42 620.13,199.84 619.19,198.43M642.06,193.43 641.66,192.7 639.59,189.13 639.17,188.43M636.11,183.43 635.21,181.99 632.91,178.43M655.18,173.43 653.97,171.27 652.3,168.43M649.25,163.43 647.44,160.56 646.05,158.43M642.69,153.43 642.69,153.41M667.82,153.41 665.77,149.84 664.92,148.43M661.87,143.43 661.42,142.7 659.12,139.13 658.65,138.43M679.98,133.43 679.16,131.98 677.06,128.43M673.97,123.43 672.6,121.27 670.72,118.43M691.67,113.43 690,110.56 688.7,108.43M685.58,103.43 685.57,103.41 683.24,99.84 682.28,98.43M706.56,99.84 705.77,98.43M702.9,93.43 702.48,92.7 700.32,89.13 699.87,88.43M696.68,83.43 695.74,81.98 693.34,78.43"/><path stroke="#00ff00" stroke-width="0.9" d="M477.98,503.43 476.01,499.85M507.25,503.43 505.73,499.85 505.11,498.43M502.88,493.43 502.56,492.71 500.91,489.14 500.56,488.43M498.14,483.43 497.44,482 495.63,478.43M493,473.43 491.85,471.28M521.42,473.43 520.54,471.28 519.32,468.43M517.12,463.43 515.83,460.57 514.83,458.43M512.43,453.43 512.43,453.42 510.65,449.85 509.92,448.43M507.31,443.43 506.93,442.71 504.98,439.14M534.79,442.71 533.29,439.14 532.98,438.43M530.78,433.43 530.14,431.99 528.49,428.43M526.07,423.43 525.01,421.28 523.55,418.43M520.91,413.43 519.35,410.57M548.22,413.43 547.03,410.57 546.1,408.43M543.88,403.43 543.88,403.42 542.22,399.85 541.53,398.43M539.08,393.43 538.72,392.71 536.89,389.14 536.51,388.43M533.81,383.43 533.02,381.99M560.83,383.43 560.23,381.99 558.66,378.43M556.37,373.43 555.36,371.28 553.96,368.43M551.43,363.43 549.94,360.56 548.78,358.43M575.92,360.56 575.03,358.43M572.89,353.43 572.89,353.42 571.28,349.85 570.62,348.43M568.24,343.43 567.89,342.71 566.1,339.13 565.73,338.43M563.09,333.43 562.32,331.99M588.72,333.43 588.13,331.99 586.59,328.43M584.32,323.43 583.32,321.28 581.94,318.43M579.43,313.43 577.94,310.56 576.78,308.43M602.82,310.56 601.93,308.43M599.78,303.43 599.78,303.42 598.16,299.85 597.5,298.43M595.09,293.43 594.74,292.7 592.92,289.13 592.55,288.43M589.87,283.43 589.08,281.99M614.65,283.43 614.04,281.99 612.47,278.43M610.14,273.43 609.11,271.27 607.69,268.43M605.09,263.43 603.55,260.56M629.01,263.43 627.82,260.56 626.89,258.43M624.64,253.43 624.64,253.42 622.95,249.85 622.25,248.43M619.73,243.43 619.36,242.7 617.45,239.13M642.61,242.7 641.13,239.13 640.83,238.43M638.63,233.43 637.98,231.99 636.3,228.43M633.81,223.43 632.71,221.27 631.19,218.43M655.48,221.27 654.31,218.43M652.14,213.43 650.85,210.56 649.84,208.43M647.4,203.43 647.4,203.42 645.56,199.84 644.8,198.43M667.95,199.84 667.36,198.43M665.22,193.43 664.9,192.7 663.27,189.13 662.93,188.43M660.5,183.43 659.78,181.99 657.93,178.43M677.87,173.43 676.91,171.27 675.58,168.43M673.15,163.43 671.69,160.56 670.56,158.43M667.83,153.43 667.82,153.41M693.15,160.56 692.26,158.43M690.12,153.43 690.11,153.41 688.48,149.84 687.81,148.43M685.36,143.43 684.99,142.7 683.13,139.13 682.75,138.43M704.44,139.13 704.14,138.43M701.95,133.43 701.3,131.98 699.62,128.43M697.12,123.43 696.01,121.27 694.48,118.43M716.84,121.27 715.63,118.43M713.4,113.43 712.06,110.56 711.01,108.43M708.48,103.43 708.47,103.41 706.56,99.84"/><path stroke="#00ff00" stroke-width="0.95" d="M532.29,503.43 531.14,499.85 530.67,498.43M528.98,493.43 528.73,492.71 527.47,489.14 527.21,488.43M525.36,483.43 524.83,482 523.44,478.43M553.93,503.43 553.08,499.85 552.72,498.43M551.47,493.43 551.28,492.71 550.34,489.14 550.15,488.43M548.77,483.43 548.36,482 547.33,478.43M545.81,473.43 545.14,471.28 544.22,468.43M542.56,463.43 541.58,460.57 540.82,458.43M539,453.43 539,453.42 537.64,449.85 537.08,448.43M535.08,443.43 534.79,442.71M566.93,473.43 566.44,471.28 565.76,468.43M564.54,463.43 563.81,460.57 563.25,458.43M561.9,453.43 561.9,453.42 560.89,449.85 560.47,448.43M558.97,443.43 558.75,442.71 557.63,439.14 557.4,438.43M555.74,433.43 555.25,431.99 554,428.43M552.17,423.43 551.36,421.28 550.24,418.43M579.54,442.71 578.72,439.14 578.55,438.43M577.33,433.43 576.98,431.99 576.06,428.43M574.7,423.43 574.1,421.28 573.27,418.43M571.77,413.43 570.87,410.57 570.17,408.43M568.5,403.43 568.5,403.42 567.25,399.85 566.73,398.43M564.87,393.43 564.6,392.71 563.19,389.14 562.9,388.43M591.57,410.57 591.07,408.43M589.85,403.43 589.85,403.42 588.93,399.85 588.55,398.43M587.18,393.43 586.98,392.71 585.93,389.14 585.72,388.43M584.18,383.43 583.72,381.99 582.55,378.43M580.82,373.43 580.05,371.28 579,368.43M577.07,363.43 575.92,360.56M604.16,381.99 603.31,378.43M602.04,373.43 601.48,371.28 600.71,368.43M599.28,363.43 598.43,360.56 597.77,358.43M596.17,353.43 596.17,353.42 594.96,349.85 594.46,348.43M592.66,343.43 592.4,342.71 591.03,339.13 590.75,338.43M616.45,353.43 616.45,353.42 615.57,349.85 615.21,348.43M613.89,343.43 613.7,342.71 612.69,339.13 612.48,338.43M610.98,333.43 610.54,331.99 609.39,328.43M607.68,323.43 606.93,321.28 605.88,318.43M603.96,313.43 602.82,310.56M630.11,331.99 629.29,328.43M628.05,323.43 627.5,321.28 626.73,318.43M625.32,313.43 624.48,310.56 623.81,308.43M622.21,303.43 622.21,303.42 620.99,299.85 620.49,298.43M618.66,293.43 618.39,292.7 617,289.13 616.72,288.43M641.82,303.43 641.82,303.42 640.94,299.85 640.57,298.43M639.24,293.43 639.04,292.7 638.02,289.13 637.81,288.43M636.27,283.43 635.82,281.99 634.63,278.43M632.87,273.43 632.09,271.27 631,268.43M654.9,281.99 654.05,278.43M652.77,273.43 652.2,271.27 651.4,268.43M649.93,263.43 649.04,260.56 648.34,258.43M646.65,253.43 646.65,253.42 645.36,249.85 644.83,248.43M642.89,243.43 642.61,242.7M667.68,260.56 667.18,258.43M665.96,253.43 665.96,253.42 665.02,249.85 664.63,248.43M663.2,243.43 662.99,242.7 661.89,239.13 661.66,238.43M660.01,233.43 659.52,231.99 658.24,228.43M656.33,223.43 655.48,221.27M680.16,239.13 680,238.43M678.81,233.43 678.46,231.99 677.53,228.43M676.12,223.43 675.5,221.27 674.62,218.43M672.99,213.43 672.01,210.56 671.24,208.43M669.37,203.43 669.37,203.42 667.95,199.84M691.36,213.43 690.65,210.56 690.09,208.43M688.72,203.43 688.72,203.42 687.67,199.84 687.22,198.43M685.61,193.43 685.38,192.7 684.14,189.13 683.88,188.43M682.01,183.43 681.45,181.99 680.02,178.43M703.62,193.43 703.45,192.7 702.55,189.13 702.36,188.43M700.99,183.43 700.58,181.99 699.51,178.43M697.89,173.43 697.16,171.27 696.15,168.43M694.28,163.43 693.15,160.56M715.6,173.43 715.08,171.27 714.34,168.43M712.96,163.43 712.12,160.56 711.46,158.43M709.84,153.43 709.83,153.41 708.59,149.84 708.07,148.43M706.17,143.43 705.89,142.7 704.44,139.13"/><path stroke="#00ff00" stroke-width="1" d="M572.83,503.43 572.21,499.85 571.96,498.43M571.05,493.43 570.92,492.71 570.24,489.14 570.1,488.43M569.09,483.43 568.8,482 568.04,478.43M589.5,503.43 589.08,499.85 588.9,498.43M588.28,493.43 588.19,492.71 587.72,489.14 587.62,488.43M586.92,483.43 586.71,482 586.18,478.43M585.4,473.43 585.06,471.28 584.58,468.43M583.71,463.43 583.19,460.57 582.78,458.43M581.81,453.43 581.81,453.42 581.08,449.85 580.78,448.43M579.7,443.43 579.54,442.71M604.33,503.43 604.07,499.85 603.96,498.43M603.57,493.43 603.52,492.71 603.22,489.14 603.15,488.43M602.7,483.43 602.57,482 602.23,478.43M601.72,473.43 601.49,471.28 601.17,468.43M600.59,463.43 600.24,460.57 599.97,458.43M599.31,453.43 599.31,453.42 598.81,449.85 598.6,448.43M597.85,443.43 597.74,442.71 597.17,439.14 597.05,438.43M596.2,433.43 595.95,431.99 595.3,428.43M594.33,423.43 593.9,421.28 593.31,418.43M592.22,413.43 591.57,410.57M617.64,503.43 617.52,499.85 617.46,498.43M617.26,493.43 617.23,492.71 617.08,489.14 617.04,488.43M616.8,483.43 616.73,482 616.54,478.43M616.25,473.43 616.12,471.28 615.94,468.43M615.59,463.43 615.38,460.57 615.22,458.43M614.81,453.43 614.81,453.42 614.5,449.85 614.37,448.43M613.9,443.43 613.83,442.71 613.46,439.14 613.38,438.43M612.83,433.43 612.66,431.99 612.23,428.43M611.59,423.43 611.3,421.28 610.9,418.43M610.16,413.43 609.71,410.57 609.36,408.43M608.52,403.43 608.52,403.42 607.87,399.85 607.6,398.43M606.63,393.43 606.49,392.71 605.75,389.14 605.59,388.43M604.48,383.43 604.16,381.99M629.67,503.43 629.66,499.85 629.65,498.43M629.61,493.43 629.6,492.71 629.57,489.14 629.56,488.43M629.49,483.43 629.47,482 629.41,478.43M629.3,473.43 629.25,471.28 629.18,468.43M629.03,463.43 628.94,460.57 628.86,458.43M628.67,453.43 628.67,453.42 628.52,449.85 628.45,448.43M628.2,443.43 628.17,442.71 627.97,439.14 627.93,438.43M627.62,433.43 627.52,431.99 627.28,428.43M626.9,423.43 626.72,421.28 626.48,418.43M626.02,413.43 625.75,410.57 625.52,408.43M624.98,403.43 624.98,403.42 624.56,399.85 624.39,398.43M623.75,393.43 623.65,392.71 623.16,389.14 623.05,388.43M622.3,383.43 622.08,381.99 621.5,378.43M620.62,373.43 620.23,371.28 619.68,368.43M618.68,363.43 618.07,360.56 617.6,358.43M640.61,503.43 640.69,499.85 640.72,498.43M640.82,493.43 640.83,492.71 640.9,489.14 640.91,488.43M640.99,483.43 641.01,482 641.05,478.43M641.11,473.43 641.12,471.28 641.14,468.43M641.16,463.43 641.17,460.57 641.17,458.43M641.15,453.43 641.15,453.42 641.13,449.85 641.12,448.43M641.06,443.43 641.05,442.71 640.99,439.14 640.98,438.43M640.87,433.43 640.84,431.99 640.74,428.43M640.58,423.43 640.51,421.28 640.4,418.43M640.17,413.43 640.03,410.57 639.92,408.43M639.63,403.43 639.63,403.42 639.4,399.85 639.3,398.43M638.93,393.43 638.88,392.71 638.59,389.14 638.52,388.43M638.07,383.43 637.93,381.99 637.57,378.43M637.01,373.43 636.76,371.28 636.41,368.43M635.75,363.43 635.34,360.56 635.03,358.43M634.25,353.43 634.25,353.42 633.65,349.85 633.4,348.43M632.48,343.43 632.35,342.71 631.64,339.13 631.49,338.43M630.43,333.43 630.11,331.99M650.61,503.43 650.77,499.85 650.84,498.43M651.06,493.43 651.09,492.71 651.24,489.14 651.27,488.43M651.47,483.43 651.53,482 651.66,478.43M651.85,473.43 651.92,471.28 652.02,468.43M652.18,463.43 652.27,460.57 652.33,458.43M652.47,453.43 652.47,453.42 652.55,449.85 652.59,448.43M652.69,443.43 652.7,442.71 652.77,439.14 652.78,438.43M652.84,433.43 652.86,431.99 652.89,428.43M652.91,423.43 652.92,421.28 652.92,418.43M652.89,413.43 652.87,410.57 652.84,408.43M652.77,403.43 652.77,403.42 652.69,399.85 652.66,398.43M652.52,393.43 652.5,392.71 652.37,389.14 652.34,388.43M652.13,383.43 652.07,381.99 651.89,378.43M651.6,373.43 651.46,371.28 651.27,368.43M650.89,363.43 650.66,360.56 650.47,358.43M650,353.43 650,353.42 649.63,349.85 649.47,348.43M648.89,343.43 648.8,342.71 648.35,339.13 648.25,338.43M647.54,333.43 647.33,331.99 646.78,328.43M645.94,323.43 645.56,321.28 645.03,318.43M644.04,313.43 643.44,310.56 642.97,308.43M659.81,503.43 660.04,499.85 660.13,498.43M660.45,493.43 660.5,492.71 660.72,489.14 660.77,488.43M661.07,483.43 661.16,482 661.38,478.43M661.68,473.43 661.8,471.28 661.97,468.43M662.25,463.43 662.41,460.57 662.52,458.43M662.79,453.43 662.79,453.42 662.97,449.85 663.04,448.43M663.28,443.43 663.31,442.71 663.48,439.14 663.51,438.43M663.72,433.43 663.78,431.99 663.92,428.43M664.1,423.43 664.17,421.28 664.26,418.43M664.4,413.43 664.48,410.57 664.52,408.43M664.63,403.43 664.63,403.42 664.68,399.85 664.7,398.43M664.75,393.43 664.76,392.71 664.78,389.14 664.78,388.43M664.78,383.43 664.77,381.99 664.74,378.43M664.68,373.43 664.64,371.28 664.58,368.43M664.44,363.43 664.35,360.56 664.26,358.43M664.05,353.43 664.05,353.42 663.87,349.85 663.79,348.43M663.49,343.43 663.44,342.71 663.19,339.13 663.13,338.43M662.73,333.43 662.61,331.99 662.28,328.43M661.76,323.43 661.53,321.28 661.19,318.43M660.56,313.43 660.17,310.56 659.85,308.43M659.09,303.43 659.09,303.42 658.49,299.85 658.24,298.43M657.32,293.43 657.18,292.7 656.46,289.13 656.31,288.43M655.22,283.43 654.9,281.99M668.31,503.43 668.6,499.85 668.71,498.43M669.12,493.43 669.17,492.71 669.46,489.14 669.52,488.43M669.92,483.43 670.04,482 670.32,478.43M670.72,473.43 670.89,471.28 671.11,468.43M671.5,463.43 671.71,460.57 671.88,458.43M672.25,453.43 672.25,453.42 672.51,449.85 672.62,448.43M672.97,443.43 673.02,442.71 673.27,439.14 673.32,438.43M673.66,433.43 673.75,431.99 673.98,428.43M674.3,423.43 674.43,421.28 674.6,418.43M674.88,413.43 675.04,410.57 675.15,408.43M675.41,403.43 675.41,403.42 675.57,399.85 675.64,398.43M675.85,393.43 675.88,392.71 676.02,389.14 676.05,388.43M676.22,383.43 676.26,381.99 676.36,378.43M676.48,373.43 676.53,371.28 676.58,368.43M676.64,363.43 676.66,360.56 676.67,358.43M676.68,353.43 676.68,353.42 676.66,349.85 676.64,348.43M676.57,343.43 676.56,342.71 676.48,339.13 676.46,338.43M676.31,333.43 676.26,331.99 676.12,328.43M675.87,323.43 675.76,321.28 675.59,318.43M675.24,313.43 675.03,310.56 674.85,308.43M674.4,303.43 674.4,303.42 674.04,299.85 673.88,298.43M673.31,293.43 673.22,292.7 672.76,289.13 672.66,288.43M671.95,283.43 671.73,281.99 671.16,278.43M670.29,273.43 669.9,271.27 669.34,268.43M668.31,263.43 667.68,260.56M676.18,503.43 676.52,499.85 676.66,498.43M677.14,493.43 677.21,492.71 677.56,489.14 677.63,488.43M678.11,483.43 678.25,482 678.59,478.43M679.07,473.43 679.28,471.28 679.55,468.43M680.03,463.43 680.3,460.57 680.5,458.43M680.97,453.43 680.97,453.42 681.3,449.85 681.43,448.43M681.89,443.43 681.96,442.71 682.28,439.14 682.34,438.43M682.79,433.43 682.91,431.99 683.23,428.43M683.65,423.43 683.83,421.28 684.07,418.43M684.48,413.43 684.71,410.57 684.87,408.43M685.26,403.43 685.26,403.42 685.52,399.85 685.62,398.43M685.98,393.43 686.03,392.71 686.27,389.14 686.31,388.43M686.63,383.43 686.72,381.99 686.93,378.43M687.21,373.43 687.33,371.28 687.47,368.43M687.7,363.43 687.83,360.56 687.91,358.43M688.1,353.43 688.1,353.42 688.21,349.85 688.25,348.43M688.38,343.43 688.4,342.71 688.46,339.13 688.47,338.43M688.53,333.43 688.55,331.99 688.56,328.43M688.55,323.43 688.53,321.28 688.5,318.43M688.4,313.43 688.33,310.56 688.26,308.43M688.08,303.43 688.08,303.42 687.92,299.85 687.84,298.43M687.56,293.43 687.51,292.7 687.27,289.13 687.22,288.43M686.81,283.43 686.69,281.99 686.35,278.43M685.82,273.43 685.58,271.27 685.23,268.43M684.56,263.43 684.15,260.56 683.82,258.43M683,253.43 682.99,253.42 682.36,249.85 682.08,248.43M681.09,243.43 680.94,242.7 680.16,239.13M683.51,503.43 683.9,499.85 684.06,498.43M684.61,493.43 684.68,492.71 685.08,489.14 685.16,488.43M685.71,483.43 685.87,482 686.26,478.43M686.82,473.43 687.06,471.28 687.37,468.43M687.93,463.43 688.25,460.57 688.48,458.43M689.04,453.43 689.04,453.42 689.43,449.85 689.59,448.43M690.13,443.43 690.21,442.71 690.6,439.14 690.68,438.43M691.21,433.43 691.37,431.99 691.75,428.43M692.27,423.43 692.5,421.28 692.8,418.43M693.31,413.43 693.6,410.57 693.81,408.43M694.31,403.43 694.31,403.42 694.65,399.85 694.79,398.43M695.26,393.43 695.33,392.71 695.66,389.14 695.72,388.43M696.17,383.43 696.29,381.99 696.6,378.43M697.01,373.43 697.19,371.28 697.41,368.43M697.79,363.43 698,360.56 698.15,358.43M698.49,353.43 698.5,353.42 698.72,349.85 698.81,348.43M699.1,343.43 699.15,342.71 699.34,339.13 699.37,338.43M699.61,333.43 699.68,331.99 699.83,328.43M700.01,323.43 700.08,321.28 700.16,318.43M700.27,313.43 700.32,310.56 700.35,308.43M700.39,303.43 700.39,303.42 700.4,299.85 700.39,298.43M700.35,293.43 700.34,292.7 700.28,289.13 700.26,288.43M700.12,283.43 700.07,281.99 699.93,278.43M699.69,273.43 699.57,271.27 699.39,268.43M699.03,263.43 698.8,260.56 698.61,258.43M698.13,253.43 698.13,253.42 697.74,249.85 697.57,248.43M696.94,243.43 696.84,242.7 696.33,239.13 696.23,238.43M695.43,233.43 695.19,231.99 694.56,228.43M693.59,223.43 693.15,221.27 692.53,218.43M690.36,503.43 690.79,499.85 690.96,498.43M691.57,493.43 691.65,492.71 692.09,489.14 692.18,488.43M692.79,483.43 692.97,482 693.41,478.43M694.03,473.43 694.3,471.28 694.66,468.43M695.28,463.43 695.64,460.57 695.91,458.43M696.53,453.43 696.53,453.42 696.98,449.85 697.16,448.43M697.78,443.43 697.87,442.71 698.31,439.14 698.4,438.43M699.02,433.43 699.2,431.99 699.64,428.43M700.25,423.43 700.52,421.28 700.86,418.43M701.47,413.43 701.81,410.57 702.07,408.43M702.66,403.43 702.66,403.42 703.08,399.85 703.24,398.43M703.82,393.43 703.9,392.71 704.31,389.14 704.38,388.43M704.94,383.43 705.1,381.99 705.49,378.43M706.02,373.43 706.25,371.28 706.54,368.43M707.05,363.43 707.33,360.56 707.54,358.43M708.01,353.43 708.01,353.42 708.34,349.85 708.47,348.43M708.9,343.43 708.96,342.71 709.26,339.13 709.32,338.43M709.71,333.43 709.82,331.99 710.09,328.43M710.43,323.43 710.57,321.28 710.75,318.43M711.05,313.43 711.2,310.56 711.31,308.43M711.54,303.43 711.54,303.42 711.69,299.85 711.74,298.43M711.9,293.43 711.92,292.7 712.01,289.13 712.03,288.43M712.11,283.43 712.13,281.99 712.16,278.43M712.15,273.43 712.14,271.27 712.11,268.43M712.01,263.43 711.93,260.56 711.86,258.43M711.66,253.43 711.66,253.42 711.48,249.85 711.39,248.43M711.07,243.43 711.02,242.7 710.74,239.13 710.68,238.43M710.22,233.43 710.08,231.99 709.7,228.43M709.09,223.43 708.81,221.27 708.4,218.43M707.63,213.43 707.16,210.56 706.77,208.43M705.83,203.43 705.83,203.42 705.09,199.84 704.77,198.43M696.77,503.43 697.24,499.85 697.42,498.43M698.08,493.43 698.18,492.71 698.65,489.14 698.75,488.43M699.42,483.43 699.61,482 700.09,478.43M700.77,473.43 701.07,471.28 701.46,468.43M702.14,463.43 702.53,460.57 702.83,458.43M703.52,453.43 703.52,453.42 704.01,449.85 704.21,448.43M704.9,443.43 705,442.71 705.5,439.14 705.59,438.43M706.29,433.43 706.48,431.99 706.98,428.43M707.67,423.43 707.96,421.28 708.36,418.43M709.04,413.43 709.43,410.57 709.72,408.43M710.4,403.43 710.4,403.42 710.88,399.85 711.07,398.43M711.74,393.43 711.83,392.71 712.3,389.14 712.4,388.43M713.05,383.43 713.24,381.99 713.69,378.43M714.33,373.43 714.6,371.28 714.95,368.43M715.57,363.43 715.92,360.56 716.17,358.43M716.76,353.43 716.76,353.42 716.76,348.43M716.76,343.43 716.76,338.43M716.76,333.43 716.76,328.43M716.76,323.43 716.76,318.43M716.76,313.43 716.76,308.43M716.76,303.43 716.76,298.43M716.76,293.43 716.76,288.43M716.76,283.43 716.76,278.43M716.76,273.43 716.76,268.43M716.76,263.43 716.76,258.43M716.76,253.43 716.76,248.43M716.76,243.43 716.76,238.43M716.76,233.43 716.76,228.43M716.76,223.43 716.76,218.43M716.76,213.43 716.76,208.43M716.76,203.43 716.76,198.43M716.76,193.43 716.76,188.43M716.76,183.43 716.76,178.43M702.79,503.43 703.29,499.85 703.49,498.43M704.2,493.43 704.3,492.71 704.81,489.14 704.91,488.43M705.63,483.43 705.84,482 706.36,478.43M707.09,473.43 707.4,471.28 707.82,468.43M708.56,463.43 708.99,460.57 709.31,458.43M710.05,453.43 710.05,453.42 710.59,449.85 710.8,448.43M711.56,443.43 711.66,442.71 712.2,439.14 712.31,438.43M713.07,433.43 713.28,431.99 713.82,428.43M714.58,423.43 714.91,421.28 715.34,418.43M716.09,413.43 716.52,410.57 716.53,408.43M716.53,403.43 716.54,398.43M716.54,393.43 716.55,388.43M716.55,383.43 716.56,378.43M716.56,373.43 716.57,368.43M716.58,363.43 716.58,358.43M716.59,353.43 716.59,348.43M716.6,343.43 716.6,338.43M716.61,333.43 716.61,328.43M716.62,323.43 716.62,318.43M716.63,313.43 716.63,308.43M716.64,303.43 716.65,298.43M716.65,293.43 716.66,288.43M716.66,283.43 716.67,278.43M716.67,273.43 716.68,268.43M716.68,263.43 716.69,258.43M716.69,253.43 716.7,248.43M716.7,243.43 716.71,238.43M716.72,233.43 716.72,228.43M716.73,223.43 716.73,218.43M716.74,213.43 716.74,208.43M716.75,203.43 716.75,198.43M716.76,193.43 716.76,188.43M716.77,183.43 716.77,178.43M716.78,173.43 716.79,168.43M716.79,163.43 716.8,158.43M716.8,153.43 716.81,148.43M716.81,143.43 716.82,138.43M716.82,133.43 716.83,128.43M716.83,123.43 716.84,121.27"/>
<path stroke="#5f00a0" stroke-width="0.75" d="M147.72,503.43 150.77,499.85 153.28,496.93M159.28,489.93 159.95,489.14 163.02,485.57 164.86,483.43M170.88,476.43 172.23,474.85 175.3,471.28 176.47,469.93M182.51,462.93 184.54,460.57 187.63,457 188.12,456.43M194.17,449.43 196.89,446.28 199.79,442.93M205.86,435.93 206.17,435.57 209.27,431.99 211.5,429.43M217.59,422.43 218.58,421.28 221.69,417.71 223.24,415.93M229.34,408.93 231.03,406.99 234.15,403.42 235.02,402.43M241.13,395.43 243.51,392.71 246.63,389.14 246.82,388.93M252.95,381.93 256.02,378.42 258.65,375.43M264.8,368.43 265.43,367.71 268.57,364.13 270.51,361.93M276.68,354.93 278,353.42 281.15,349.85 282.41,348.43M288.59,341.43 290.61,339.13 293.77,335.56 294.33,334.93M300.52,327.93 303.25,324.85 306.28,321.43M312.49,314.43 312.75,314.13 315.92,310.56 318.26,307.93M324.49,300.93 325.45,299.85 328.62,296.28 330.27,294.43M336.51,287.43 338.17,285.56 341.36,281.99 342.31,280.93M348.56,273.93 350.93,271.27 354.13,267.7 354.38,267.43M360.64,260.43 363.72,256.99 366.47,253.93M372.75,246.93 373.34,246.27 376.55,242.7 378.59,240.43M384.89,233.43 386.18,231.99 389.4,228.42 390.74,226.93M397.05,219.93 399.06,217.7 402.28,214.13 402.92,213.43M409.24,206.43 411.96,203.42 415.12,199.93M421.46,192.93 421.66,192.7 424.9,189.13 427.35,186.43M433.7,179.43 434.62,178.41 437.86,174.84 439.61,172.93M445.97,165.93 447.61,164.13 450.86,160.56 451.89,159.43M458.27,152.43 460.62,149.84 463.88,146.27 464.2,145.93M470.59,138.93 473.67,135.56 476.53,132.43M482.93,125.43 483.47,124.84 486.74,121.27 488.89,118.93M495.31,111.93 496.56,110.56 499.84,106.98 501.27,105.43M507.7,98.43 509.68,96.27 512.97,92.7 513.68,91.93M520.12,84.93 522.83,81.98 526.11,78.43M193.92,503.43 196.89,499.85 199.32,496.93M205.16,489.93 205.81,489.14 208.79,485.57 210.58,483.43M216.43,476.43 217.75,474.85 220.74,471.28 221.87,469.93M227.74,462.93 229.72,460.57 232.72,457 233.2,456.43M239.09,449.43 241.74,446.28 244.56,442.93M250.47,435.93 250.77,435.57 253.79,431.99 255.96,429.43M261.89,422.43 262.86,421.28 265.88,417.71 267.4,415.93M273.34,408.93 274.98,406.99 278.01,403.42 278.86,402.43M284.82,395.43 287.14,392.71 290.18,389.14 290.36,388.93M296.34,381.93 299.34,378.42 301.9,375.43M307.89,368.43 308.51,367.71 311.57,364.13 313.47,361.93M319.48,354.93 320.77,353.42 323.84,349.85 325.07,348.43M331.1,341.43 333.07,339.13 336.15,335.56 336.7,334.93M342.75,327.93 345.41,324.85 348.37,321.43M354.43,314.43 354.68,314.13 357.78,310.56 360.07,307.93M366.14,300.93 367.08,299.85 370.19,296.28 371.8,294.43M377.89,287.43 379.51,285.56 382.63,281.99 383.56,280.93M389.67,273.93 391.98,271.27 395.1,267.7 395.35,267.43M401.47,260.43 404.48,256.99 407.17,253.93M413.31,246.93 413.88,246.27 417.02,242.7 419.02,240.43M425.18,233.43 426.44,231.99 429.59,228.42 430.9,226.93M437.08,219.93 439.04,217.7 442.19,214.13 442.82,213.43M449,206.43 451.67,203.42 454.76,199.93M460.96,192.93 461.16,192.7 464.33,189.13 466.73,186.43M472.95,179.43 473.85,178.41 477.02,174.84 478.73,172.93M484.96,165.93 486.56,164.13 489.75,160.56 490.76,159.43M497,152.43 499.31,149.84 502.5,146.27 502.81,145.93M509.07,138.93 512.09,135.56 514.9,132.43M521.17,125.43 521.7,124.84 524.9,121.27 527.01,118.93M533.3,111.93 534.53,110.56 537.74,106.98 539.15,105.43M545.45,98.43 547.4,96.27 550.62,92.7 551.31,91.93M557.63,84.93 560.29,81.98 563.51,78.43M336.11,408.93 337.69,406.99 340.61,403.42 341.42,402.43M347.15,395.43 349.38,392.71 352.3,389.14 352.48,388.93M358.22,381.93 361.11,378.42 363.57,375.43M369.34,368.43 369.93,367.71 372.88,364.13 374.7,361.93M380.49,354.93 381.73,353.42 384.69,349.85 385.87,348.43M391.68,341.43 393.58,339.13 396.55,335.56 397.08,334.93M402.9,327.93 405.47,324.85 408.32,321.43M414.16,314.43 414.41,314.13 417.39,310.56 419.6,307.93M425.46,300.93 426.36,299.85 429.36,296.28 430.91,294.43M436.79,287.43 438.36,285.56 441.37,281.99 442.26,280.93M448.16,273.93 450.4,271.27 453.41,267.7 453.65,267.43M459.57,260.43 462.48,256.99 465.07,253.93M471.01,246.93 471.56,246.27 474.59,242.7 476.53,240.43M482.48,233.43 483.7,231.99 486.74,228.42 488.01,226.93M493.99,219.93 495.88,217.7 498.93,214.13 499.54,213.43M505.53,206.43 508.1,203.42 511.09,199.93M517.1,192.93 517.29,192.7 520.36,189.13 522.68,186.43M528.7,179.43 529.57,178.41 532.65,174.84 534.3,172.93M540.34,165.93 541.89,164.13 544.98,160.56 545.96,159.43M552.01,152.43 554.25,149.84 557.34,146.27 557.64,145.93M563.72,138.93 566.64,135.56 569.36,132.43M575.45,125.43 575.96,124.84 579.07,121.27 581.11,118.93M587.22,111.93 588.41,110.56 591.53,106.98 592.89,105.43M599.01,98.43 600.9,96.27 604.03,92.7 604.7,91.93M610.84,84.93 613.42,81.98 616.54,78.43M486.4,285.56 489.32,281.99 490.18,280.93M495.9,273.93 498.07,271.27 501,267.7 501.23,267.43M506.97,260.43 509.79,256.99 512.31,253.93M518.07,246.93 518.6,246.27 521.55,242.7 523.42,240.43M529.2,233.43 530.39,231.99 533.35,228.42 534.58,226.93M540.38,219.93 542.22,217.7 545.19,214.13 545.77,213.43M551.59,206.43 554.1,203.42 557,199.93M562.84,192.93 563.03,192.7 566.01,189.13 568.27,186.43M574.13,179.43 574.97,178.41 577.96,174.84 579.57,172.93M585.45,165.93 586.96,164.13 589.96,160.56 590.91,159.43M596.8,152.43 598.98,149.84 601.99,146.27 602.28,145.93M608.2,138.93 611.04,135.56 613.69,132.43M619.62,125.43 620.12,124.84 623.15,121.27 625.14,118.93M631.08,111.93 632.25,110.56 635.29,106.98 636.61,105.43M642.58,98.43 644.42,96.27 647.46,92.7 648.12,91.93M654.11,84.93 656.62,81.98 659.67,78.43M579.98,206.43 582.44,203.42 585.29,199.93M591.02,192.93 591.21,192.7 594.14,189.13 596.36,186.43M602.11,179.43 602.94,178.41 605.88,174.84 607.46,172.93M613.23,165.93 614.71,164.13 617.66,160.56 618.59,159.43M624.38,152.43 626.52,149.84 629.48,146.27 629.77,145.93M635.58,138.93 638.38,135.56 640.98,132.43M646.81,125.43 647.3,124.84 650.28,121.27 652.23,118.93M658.08,111.93 659.23,110.56 662.21,106.98 663.52,105.43M669.38,98.43 671.19,96.27 674.19,92.7 674.84,91.93M680.72,84.93 683.2,81.98 686.2,78.43M637.97,160.56 638.89,159.43M644.61,152.43 646.72,149.84 649.64,146.27 649.92,145.93M655.66,138.93 658.42,135.56 660.99,132.43M666.74,125.43 667.22,124.84 670.16,121.27 672.09,118.93M677.87,111.93 679,110.56 681.95,106.98 683.24,105.43M689.03,98.43 690.82,96.27 693.78,92.7 694.42,91.93M700.23,84.93 702.68,81.98 705.64,78.43"/><path stroke="#5f00a0" stroke-width="0.8" d="M259.97,503.43 262.82,499.85 265.15,496.93M270.73,489.93 271.36,489.14 274.21,485.57 275.92,483.43M281.52,476.43 282.78,474.85 285.65,471.28 286.74,469.93M292.36,462.93 294.26,460.57 297.13,457 297.59,456.43M303.24,449.43 305.78,446.28 308.49,442.93M314.16,435.93 314.45,435.57 317.34,431.99 319.43,429.43M325.12,422.43 326.05,421.28 328.95,417.71 330.41,415.93M314.15,503.43 316.88,499.85 319.12,496.93M324.49,489.93 325.09,489.14 327.84,485.57 329.49,483.43M334.88,476.43 336.09,474.85 338.85,471.28 339.89,469.93M345.31,462.93 347.14,460.57 349.91,457 350.35,456.43M355.79,449.43 358.24,446.28 360.85,442.93M366.31,435.93 366.59,435.57 369.38,431.99 371.39,429.43M376.88,422.43 377.78,421.28 380.58,417.71 381.98,415.93M387.49,408.93 389.01,406.99 391.83,403.42 392.61,402.43M398.14,395.43 400.29,392.71 403.12,389.14 403.29,388.93M408.84,381.93 411.63,378.42 414.01,375.43M419.58,368.43 420.15,367.71 423,364.13 424.77,361.93M430.36,354.93 431.57,353.42 434.43,349.85 435.57,348.43M441.19,341.43 443.03,339.13 445.9,335.56 446.41,334.93M452.05,327.93 454.53,324.85 457.29,321.43M462.95,314.43 463.19,314.13 466.08,310.56 468.22,307.93M473.9,300.93 474.77,299.85 477.68,296.28 479.18,294.43M484.88,287.43 486.4,285.56M347.68,503.43 350.35,499.85 352.53,496.93M357.76,489.93 358.35,489.14 361.03,485.57 362.63,483.43M367.89,476.43 369.07,474.85 371.76,471.28 372.78,469.93M378.07,462.93 379.85,460.57 382.55,457 382.98,456.43M388.29,449.43 390.68,446.28 393.23,442.93M398.56,435.93 398.83,435.57 401.56,431.99 403.52,429.43M408.88,422.43 409.76,421.28 412.5,417.71 413.87,415.93M419.25,408.93 420.73,406.99 423.48,403.42 424.25,402.43M429.66,395.43 431.76,392.71 434.52,389.14 434.69,388.93M440.11,381.93 442.84,378.42 445.17,375.43M450.62,368.43 451.18,367.71 453.96,364.13 455.69,361.93M461.16,354.93 462.34,353.42 465.14,349.85 466.26,348.43M471.76,341.43 473.56,339.13 476.37,335.56 476.87,334.93M482.39,327.93 484.82,324.85 487.53,321.43M493.07,314.43 493.3,314.13 496.13,310.56 498.22,307.93M503.79,300.93 504.65,299.85 507.49,296.28 508.96,294.43M514.55,287.43 516.04,285.56 518.89,281.99 519.75,280.93M525.35,273.93 527.48,271.27 530.35,267.7 530.57,267.43M536.2,260.43 538.97,256.99 541.43,253.93M547.08,246.93 547.61,246.27 550.5,242.7 552.34,240.43M558.01,233.43 559.18,231.99 562.07,228.42 563.28,226.93M568.98,219.93 570.79,217.7 573.69,214.13 574.27,213.43M372.36,503.43 374.97,499.85 377.11,496.93M382.24,489.93 382.82,489.14 385.44,485.57 387.02,483.43M392.17,476.43 393.33,474.85 395.97,471.28 396.97,469.93M402.16,462.93 403.9,460.57 406.56,457 406.98,456.43M412.19,449.43 414.53,446.28 417.04,442.93M422.27,435.93 422.54,435.57 425.22,431.99 427.15,429.43M432.41,422.43 433.27,421.28 435.96,417.71 437.3,415.93M442.59,408.93 444.05,406.99 446.75,403.42 447.51,402.43M452.82,395.43 454.88,392.71 457.6,389.14 457.76,388.93M463.1,381.93 465.77,378.42 468.06,375.43M473.42,368.43 473.97,367.71 476.71,364.13 478.41,361.93M483.79,354.93 484.95,353.42 487.7,349.85 488.8,348.43M494.21,341.43 495.98,339.13 498.75,335.56 499.24,334.93M504.67,327.93 507.06,324.85 509.73,321.43M515.18,314.43 515.41,314.13 518.2,310.56 520.26,307.93M525.73,300.93 526.58,299.85 529.38,296.28 530.83,294.43M536.33,287.43 537.8,285.56 540.61,281.99 541.45,280.93M546.97,273.93 549.06,271.27 551.89,267.7 552.11,267.43M557.65,260.43 560.38,256.99 562.81,253.93M568.38,246.93 568.9,246.27 571.74,242.7 573.56,240.43M579.15,233.43 580.3,231.99 583.15,228.42 584.35,226.93M589.96,219.93 591.74,217.7 594.61,214.13 595.17,213.43M600.81,206.43 603.23,203.42 606.04,199.93M611.7,192.93 611.88,192.7 614.77,189.13 616.95,186.43M622.63,179.43 623.45,178.41 626.35,174.84 627.9,172.93M633.6,165.93 635.06,164.13 637.97,160.56M408.44,503.43 410.97,499.85 413.05,496.93M418.03,489.93 418.59,489.14 421.13,485.57 422.66,483.43M427.67,476.43 428.79,474.85 431.36,471.28 432.33,469.93M437.36,462.93 439.06,460.57 441.64,457 442.05,456.43M447.11,449.43 449.39,446.28 451.83,442.93M456.92,435.93 457.18,435.57 459.78,431.99 461.66,429.43M466.77,422.43 467.61,421.28 470.23,417.71 471.54,415.93M476.68,408.93 478.1,406.99 480.74,403.42 481.47,402.43M486.64,395.43 488.65,392.71 491.3,389.14 491.46,388.93M496.65,381.93 499.26,378.42 501.49,375.43M506.71,368.43 507.25,367.71 509.92,364.13 511.58,361.93M516.83,354.93 517.96,353.42 520.64,349.85 521.71,348.43M526.99,341.43 528.71,339.13 531.41,335.56 531.89,334.93M537.19,327.93 539.53,324.85 542.13,321.43M547.45,314.43 547.67,314.13 550.39,310.56 552.41,307.93M557.75,300.93 558.58,299.85 561.31,296.28 562.73,294.43M568.1,287.43 569.54,285.56 572.29,281.99 573.1,280.93M578.5,273.93 580.55,271.27 583.31,267.7 583.52,267.43M588.94,260.43 591.61,256.99 593.99,253.93M599.43,246.93 599.94,246.27 602.72,242.7 604.5,240.43M609.96,233.43 611.09,231.99 613.88,228.42 615.05,226.93M620.54,219.93 622.29,217.7 625.09,214.13 625.65,213.43M631.16,206.43 633.54,203.42 636.29,199.93M641.83,192.93 642,192.7 644.83,189.13 646.97,186.43M652.53,179.43 653.33,178.41 656.17,174.84 657.7,172.93M663.28,165.93 664.71,164.13 667.57,160.56 668.47,159.43M674.07,152.43 676.14,149.84 679,146.27 679.28,145.93M684.9,138.93 687.61,135.56 690.13,132.43M695.77,125.43 696.24,124.84 699.13,121.27 701.02,118.93M706.69,111.93 707.8,110.56 710.69,106.98 711.96,105.43M435,503.43 437.47,499.85 439.5,496.93M444.37,489.93 444.91,489.14 447.4,485.57 448.9,483.43M453.79,476.43 454.89,474.85 457.4,471.28 458.35,469.93M463.27,462.93 464.93,460.57 467.45,457 467.86,456.43M472.81,449.43 475.04,446.28 477.42,442.93M482.4,435.93 482.66,435.57 485.21,431.99 487.04,429.43M492.05,422.43 492.87,421.28 495.44,417.71 496.72,415.93M501.76,408.93 503.15,406.99 505.73,403.42 506.45,402.43M511.51,395.43 513.48,392.71 516.08,389.14 516.23,388.93M521.32,381.93 523.88,378.42 526.07,375.43M531.19,368.43 531.71,367.71 534.33,364.13 535.96,361.93M541.1,354.93 542.21,353.42 544.84,349.85 545.9,348.43M551.07,341.43 552.77,339.13 555.41,335.56 555.89,334.93M561.09,327.93 563.38,324.85 565.93,321.43M571.16,314.43 571.37,314.13 574.05,310.56 576.02,307.93M581.27,300.93 582.08,299.85 584.77,296.28 586.16,294.43M591.44,287.43 592.85,285.56 595.55,281.99 596.35,280.93M601.66,273.93 603.67,271.27 606.38,267.7 606.59,267.43M611.92,260.43 614.54,256.99 616.88,253.93M622.23,246.93 622.73,246.27 625.46,242.7 627.21,240.43M632.59,233.43 633.69,231.99 636.44,228.42 637.59,226.93M642.99,219.93 644.71,217.7 647.47,214.13 648.01,213.43M653.44,206.43 655.77,203.42 658.48,199.93M663.93,192.93 664.11,192.7 666.89,189.13 669,186.43M674.47,179.43 675.26,178.41 678.06,174.84 679.56,172.93M685.05,165.93 686.46,164.13 689.27,160.56 690.16,159.43M695.68,152.43 697.72,149.84 700.54,146.27 700.81,145.93M706.35,138.93 709.02,135.56 711.5,132.43M510.36,449.43 512.52,446.28 514.82,442.93M519.64,435.93 519.89,435.57 522.36,431.99 524.13,429.43M528.98,422.43 529.78,421.28 532.26,417.71 533.5,415.93M538.38,408.93 539.73,406.99 542.23,403.42 542.93,402.43M547.84,395.43 549.75,392.71 552.26,389.14 552.41,388.93M557.35,381.93 559.83,378.42 561.95,375.43M566.92,368.43 567.43,367.71 569.97,364.13 571.55,361.93M576.55,354.93 577.62,353.42 580.18,349.85 581.2,348.43M586.23,341.43 587.87,339.13 590.45,335.56 590.91,334.93M595.96,327.93 598.19,324.85 600.67,321.43M605.75,314.43 605.96,314.13 608.56,310.56 610.48,307.93M615.59,300.93 616.38,299.85 618.99,296.28 620.35,294.43M625.48,287.43 626.85,285.56 629.48,281.99 630.27,280.93M635.43,273.93 637.39,271.27 640.03,267.7 640.23,267.43M645.42,260.43 647.98,256.99 650.26,253.93M655.47,246.93 655.96,246.27 658.62,242.7 660.33,240.43M665.57,233.43 666.64,231.99 669.33,228.42 670.45,226.93M675.71,219.93 677.39,217.7 680.08,214.13 680.62,213.43M685.91,206.43 688.19,203.42 690.83,199.93M696.15,192.93 696.32,192.7 699.04,189.13 701.1,186.43M706.44,179.43 707.21,178.41 709.94,174.84 711.41,172.93M574.54,395.43 576.4,392.71 578.86,389.14 579,388.93M583.83,381.93 586.25,378.42 588.32,375.43M593.18,368.43 593.68,367.71 596.16,364.13 597.7,361.93M602.59,354.93 603.64,353.42 606.14,349.85 607.14,348.43M612.05,341.43 613.66,339.13 616.18,335.56 616.63,334.93M621.57,327.93 623.75,324.85 626.18,321.43M631.15,314.43 631.36,314.13 633.9,310.56 635.78,307.93M640.79,300.93 641.56,299.85 644.12,296.28 645.44,294.43M650.47,287.43 651.82,285.56 654.39,281.99 655.16,280.93M660.22,273.93 662.14,271.27 664.73,267.7 664.93,267.43M670.01,260.43 672.52,256.99 674.75,253.93M679.86,246.93 680.34,246.27 682.95,242.7 684.62,240.43M689.77,233.43 690.82,231.99 693.45,228.42 694.55,226.93M699.72,219.93 701.36,217.7 704.01,214.13 704.53,213.43M709.72,206.43 711.96,203.42 714.56,199.93M623.3,354.93 624.33,353.42 626.79,349.85 627.77,348.43M632.59,341.43 634.17,339.13 636.65,335.56 637.09,334.93M641.94,327.93 644.08,324.85 646.47,321.43M651.35,314.43 651.56,314.13 654.06,310.56 655.9,307.93M660.82,300.93 661.58,299.85 664.09,296.28 665.4,294.43M670.34,287.43 671.66,285.56 674.19,281.99 674.95,280.93M679.92,273.93 681.81,271.27 684.36,267.7 684.56,267.43M689.56,260.43 692.02,256.99 694.22,253.93M699.25,246.93 699.72,246.27 702.29,242.7 703.94,240.43M708.99,233.43 710.03,231.99 712.62,228.42 713.71,226.93M661.02,324.85 663.37,321.43M668.18,314.43 668.38,314.13 670.84,310.56 672.66,307.93M677.51,300.93 678.25,299.85 680.73,296.28 682.02,294.43M686.89,287.43 688.19,285.56 690.69,281.99 691.43,280.93M696.33,273.93 698.2,271.27 700.71,267.7 700.9,267.43M705.83,260.43 708.26,256.99 710.43,253.93M715.39,246.93 715.85,246.27M708.8,285.56 711.25,281.99 711.98,280.93"/><path stroke="#5f00a0" stroke-width="0.85" d="M473.85,503.43 476.23,499.85 478.19,496.93M482.88,489.93 483.41,489.14 485.81,485.57 487.26,483.43M491.98,476.43 493.05,474.85 495.46,471.28 496.38,469.93M501.14,462.93 502.75,460.57 505.18,457 505.57,456.43M502.44,503.43 504.76,499.85 506.66,496.93M511.23,489.93 511.74,489.14 514.08,485.57 515.48,483.43M520.08,476.43 521.12,474.85 523.47,471.28 524.37,469.93M529,462.93 530.57,460.57 532.94,457 533.32,456.43M537.98,449.43 540.09,446.28 542.33,442.93M547.03,435.93 547.27,435.57 549.68,431.99 551.41,429.43M556.14,422.43 556.91,421.28 559.34,417.71 560.55,415.93M565.31,408.93 566.62,406.99 569.06,403.42 569.74,402.43M525.21,503.43 527.48,499.85 529.34,496.93M533.8,489.93 534.3,489.14 536.59,485.57 537.96,483.43M542.46,476.43 543.47,474.85 545.78,471.28 546.65,469.93M551.18,462.93 552.71,460.57 555.04,457 555.41,456.43M559.97,449.43 562.03,446.28 564.23,442.93M568.83,435.93 569.07,435.57 571.42,431.99 573.12,429.43M577.75,422.43 578.51,421.28 580.88,417.71 582.07,415.93M586.74,408.93 588.03,406.99 590.42,403.42 591.09,402.43M595.79,395.43 597.61,392.71 600.02,389.14 600.16,388.93M604.9,381.93 607.27,378.42 609.3,375.43M614.07,368.43 614.56,367.71 616.99,364.13 618.51,361.93M544.21,503.43 546.43,499.85 548.26,496.93M552.63,489.93 553.12,489.14 555.36,485.57 556.71,483.43M561.12,476.43 562.12,474.85 564.38,471.28 565.24,469.93M569.68,462.93 571.19,460.57 573.46,457 573.83,456.43M578.31,449.43 580.33,446.28 582.49,442.93M587.01,435.93 587.24,435.57 589.55,431.99 591.22,429.43M595.77,422.43 596.52,421.28 598.85,417.71 600.02,415.93M604.6,408.93 605.87,406.99 608.22,403.42 608.88,402.43M613.5,395.43 615.29,392.71 617.66,389.14 617.8,388.93M622.45,381.93 624.79,378.42 626.79,375.43M631.48,368.43 631.96,367.71 634.36,364.13 635.84,361.93M640.56,354.93 641.58,353.42 643.99,349.85 644.96,348.43M649.71,341.43 651.26,339.13 653.7,335.56 654.13,334.93M658.91,327.93 661.02,324.85M567.94,503.43 570.1,499.85 571.88,496.93M576.15,489.93 576.62,489.14 578.81,485.57 580.12,483.43M584.43,476.43 585.39,474.85 587.6,471.28 588.44,469.93M592.78,462.93 594.25,460.57 596.47,457 596.83,456.43M601.2,449.43 603.18,446.28 605.28,442.93M609.7,435.93 609.93,435.57 612.18,431.99 613.81,429.43M618.26,422.43 618.99,421.28 621.27,417.71 622.41,415.93M626.9,408.93 628.14,406.99 630.43,403.42 631.08,402.43M635.6,395.43 637.35,392.71 639.67,389.14 639.81,388.93M644.36,381.93 646.65,378.42 648.61,375.43M653.19,368.43 653.67,367.71 656.02,364.13 657.47,361.93M662.09,354.93 663.09,353.42 665.45,349.85 666.4,348.43M671.05,341.43 672.58,339.13 674.97,335.56 675.39,334.93M680.08,327.93 682.14,324.85 684.45,321.43M689.17,314.43 689.36,314.13 691.78,310.56 693.56,307.93M698.32,300.93 699.05,299.85 701.48,296.28 702.74,294.43M707.53,287.43 708.8,285.56M599.29,503.43 601.37,499.85 603.09,496.93M607.21,489.93 607.67,489.14 609.78,485.57 611.05,483.43M615.21,476.43 616.14,474.85 618.27,471.28 619.09,469.93M623.28,462.93 624.7,460.57 626.85,457 627.2,456.43M631.43,449.43 633.34,446.28 635.38,442.93M639.66,435.93 639.88,435.57 642.06,431.99 643.64,429.43M647.95,422.43 648.66,421.28 650.87,417.71 651.97,415.93M656.32,408.93 657.52,406.99 659.75,403.42 660.38,402.43M664.76,395.43 666.47,392.71 668.72,389.14 668.85,388.93M673.27,381.93 675.49,378.42 677.39,375.43M681.85,368.43 682.31,367.71 684.59,364.13 686.01,361.93M690.5,354.93 691.47,353.42 693.77,349.85 694.69,348.43M699.21,341.43 700.7,339.13 703.02,335.56 703.43,334.93M708,327.93 710.01,324.85 712.25,321.43M624.17,503.43 626.2,499.85 627.86,496.93M631.86,489.93 632.31,489.14 634.36,485.57 635.59,483.43M639.63,476.43 640.54,474.85 642.61,471.28 643.4,469.93M647.48,462.93 648.86,460.57 650.96,457 651.29,456.43M655.41,449.43 657.27,446.28 659.26,442.93M663.42,435.93 663.63,435.57 665.76,431.99 667.3,429.43M671.5,422.43 672.19,421.28 674.34,417.71 675.42,415.93M679.66,408.93 680.83,406.99 683,403.42 683.61,402.43M687.89,395.43 689.55,392.71 691.75,389.14 691.88,388.93M696.19,381.93 698.36,378.42 700.22,375.43M704.57,368.43 705.02,367.71 707.24,364.13 708.63,361.93M713.01,354.93 713.96,353.42 716.21,349.85M646.82,499.85 648.45,496.93M652.35,489.93 652.78,489.14 654.78,485.57 655.99,483.43M659.93,476.43 660.81,474.85 662.84,471.28 663.61,469.93M667.59,462.93 668.94,460.57 670.98,457 671.31,456.43M675.33,449.43 677.15,446.28 679.09,442.93M683.15,435.93 683.36,435.57 685.45,431.99 686.95,429.43M691.06,422.43 691.73,421.28 693.83,417.71 694.89,415.93M699.03,408.93 700.18,406.99 702.31,403.42 702.9,402.43M707.09,395.43 708.72,392.71 710.87,389.14 710.99,388.93M707.3,449.43 709.05,446.28 710.91,442.93M714.82,435.93 715.03,435.57"/><path stroke="#5f00a0" stroke-width="0.9" d="M644.85,503.43 646.82,499.85M678.05,503.43 679.94,499.85 681.5,496.93M685.24,489.93 685.66,489.14 687.57,485.57 688.73,483.43M692.51,476.43 693.36,474.85 695.3,471.28 696.04,469.93M699.86,462.93 701.15,460.57 703.12,457 703.43,456.43"/>
</g></g>
<g clip-path="url(#c)"><g filter="url(#th)" fill="none" stroke-linejoin="round" shape-rendering="crispEdges">
<path stroke="#0000ff" stroke-width="1.1" d="M253.1,225 252.5,232.5"/><path stroke="#0000ff" stroke-width="1.15" d="M256.4,207.1 254.3,221.4M251.25,237.5 250.6,241.9"/><path stroke="#0000ff" stroke-width="1.2" d="M257.9,201.4 256.4,207.1M252.5,232.5 251.25,237.5"/><path stroke="#0000ff" stroke-width="1.25" d="M254.3,221.4 253.1,225M250.6,241.9 252.5,247.5M298.2,350 301.25,358.75M307.9,371.4 316.4,401.4"/><path stroke="#0000ff" stroke-width="1.3" d="M258.75,260 265,275 271.25,290M283.75,315 288.75,327.5 293.75,340 298.2,350"/><path stroke="#0000ff" stroke-width="1.35" d="M289.3,148.8 284.3,158.6M277.1,170 268.6,184.3M262.9,192.9 257.9,201.4M252.5,247.5 258.75,260M271.25,290 277.5,302.5 283.75,315M301.25,358.75 307.9,371.4M316.4,401.4 325,416.4M374.3,462.5 386,469.5 400,476.4 405,479.1 410.4,481.8 415.7,484.5M420,487.2 423.7,489.3 427.5,491.2 432.1,493.6"/><path stroke="#0000ff" stroke-width="1.4" d="M360.8,74.5 343.2,93.3 325.5,111.8 307.8,130.3 289.3,148.8M284.3,158.6 277.1,170M268.6,184.3 262.9,192.9M325,416.4 333.6,429.3 344.3,437.9 357.1,448.6 370,458.2 374.3,462.5M415.7,484.5 420,487.2M432.1,493.6 437.5,500.1"/>
<path stroke="#ff0000" stroke-width="1" d="M319.3,290 319.3,300.7M318.2,301.8 318.2,327.5M413.6,469 413.6,472.2"/><path stroke="#ff0000" stroke-width="1.05" d="M320,275 319.3,290"/><path stroke="#ff0000" stroke-width="1.15" d="M414.2,465.7 413.6,469M415.2,477.5 415.7,480.7"/><path stroke="#ff0000" stroke-width="1.25" d="M413.6,472.2 415.2,477.5"/><path stroke="#ff0000" stroke-width="1.3" d="M402.9,228.6 376,239.5"/><path stroke="#ff0000" stroke-width="1.35" d="M459,201.4 445.7,207.9 427.1,217.1 402.9,228.6M376,239.5 370,242.5M341.25,261.9 330,268.75M318.2,327.5 321.4,332.9 325.7,340.2 332.9,352.9 341.4,368.6M401.1,444.3 405.4,451.8 409.7,459.5M422.7,485.6 429.3,489.5M439.3,498.75 440,500"/><path stroke="#ff0000" stroke-width="1.4" d="M612.5,74.5 596.3,90 580,104.4 565,119.4 550,134 535.7,147.9 521.4,157.9 504.3,170 485.7,183.6 468.6,195 459,201.4M370,242.5 352.5,253.75 341.25,261.9M330,268.75 320,275M319.3,300.7 318.2,301.8M341.4,368.6 348.6,377.1 358.6,388.6 365.7,397.1 374.3,407.1 378,411 383.9,418.6 391.4,428.8 395.7,435.7 401.1,444.3M409.7,459.5 414.2,465.7M415.7,480.7 418.4,482.9 422.7,485.6M429.3,489.5 435.7,494.3 439.3,498.75"/>
<path stroke="#5f00a0" stroke-width="1.25" d="M86.43,76.36 85.49,73.64 84.57,70.93 83.66,68.21 82.78,65.49"/><path stroke="#5f00a0" stroke-width="1.3" d="M103.99,119.84 102.75,117.12 101.53,114.41 100.33,111.69 99.15,108.97 97.99,106.25 96.84,103.54 95.72,100.82 94.61,98.1 93.53,95.38 92.46,92.67 91.41,89.95 90.38,87.23 89.36,84.51 88.37,81.8 87.39,79.08 86.43,76.36"/><path stroke="#5f00a0" stroke-width="1.35" d="M134.59,176.91 132.92,174.19 131.28,171.48 129.66,168.76 128.06,166.04 126.49,163.32 124.93,160.61 123.39,157.89 121.88,155.17 120.38,152.45 118.9,149.74 117.45,147.02 116.01,144.3 114.6,141.58 113.2,138.86 111.83,136.15 110.47,133.43 109.13,130.71 107.82,127.99 106.52,125.28 105.24,122.56 103.99,119.84"/><path stroke="#5f00a0" stroke-width="1.4" d="M439.5,500.3 437.54,497.58 435.54,494.86 433.51,492.15 431.43,489.43 429.32,486.71 427.17,483.99 424.98,481.28 422.75,478.56 420.48,475.84 418.18,473.12 415.83,470.41 413.45,467.69 411.02,464.97 408.56,462.25 406.06,459.54 403.52,456.82 400.95,454.1 398.34,451.38 395.69,448.67 393.01,445.95 390.29,443.23 387.54,440.51 384.76,437.8 381.95,435.08 379.11,432.36 376.24,429.64 373.34,426.93 370.41,424.21 367.46,421.49 364.49,418.77 361.49,416.06 358.48,413.34 355.44,410.62 352.39,407.9 349.32,405.19 346.24,402.47 343.15,399.75 340.05,397.03 336.94,394.32 333.82,391.6 330.69,388.88 327.56,386.16 324.43,383.45 321.3,380.73 318.17,378.01 315.03,375.29 311.91,372.57 308.78,369.86 305.67,367.14 302.56,364.42 299.46,361.7 296.36,358.99 293.28,356.27 290.21,353.55 287.15,350.83 284.11,348.12 281.08,345.4 278.07,342.68 275.07,339.96 272.08,337.25 269.12,334.53 266.17,331.81 263.24,329.09 260.33,326.38 257.44,323.66 254.57,320.94 251.72,318.22 248.89,315.51 246.08,312.79 243.3,310.07 240.53,307.35 237.79,304.64 235.06,301.92 232.37,299.2 229.69,296.48 227.03,293.77 224.4,291.05 221.79,288.33 219.21,285.61 216.65,282.9 214.11,280.18 211.59,277.46 209.1,274.74 206.63,272.03 204.18,269.31 201.76,266.59 199.36,263.87 196.98,261.15 194.63,258.44 192.3,255.72 189.99,253 187.71,250.28 185.45,247.57 183.21,244.85 180.99,242.13 178.8,239.41 176.64,236.7 174.49,233.98 172.37,231.26 170.27,228.54 168.19,225.83 166.14,223.11 164.1,220.39 162.09,217.67 160.11,214.96 158.14,212.24 156.2,209.52 154.28,206.8 152.38,204.09 150.5,201.37 148.65,198.65 146.81,195.93 145,193.22 143.21,190.5 141.45,187.78 139.7,185.06 137.97,182.35 136.27,179.63 134.59,176.91M440.5,500.3 438.54,497.58 436.54,494.86 434.51,492.15 432.43,489.43 430.32,486.71 428.17,483.99 425.98,481.28 423.75,478.56 421.48,475.84 419.18,473.12 416.83,470.41 414.45,467.69 412.02,464.97 409.56,462.25 407.06,459.54 404.52,456.82 401.95,454.1 399.34,451.38 396.69,448.67 394.01,445.95 391.29,443.23 388.54,440.51 385.76,437.8 382.95,435.08 380.11,432.36 377.24,429.64"/>
<path stroke="#5f00a0" stroke-width="1" d="M413.6,469.5H415.04M413.69,472.5H417.64M414.6,475.5H420.19M415.36,478.5H422.7M416.68,481.5H425.16M420.95,484.5H427.57M425.92,487.5H429.93"/>
</g></g>
<g filter="url(#tt)">
<text x="84.85" y="52" font-size="16.44" fill="#000000" stroke="#000000" style="stroke-width:0" textLength="34.98" lengthAdjust="spacingAndGlyphs">AIRS</text>
<text x="126.88" y="52" font-size="16.44" fill="#000000" stroke="#000000" style="stroke-width:0" textLength="47.21" lengthAdjust="spacingAndGlyphs">SkewT</text>
<text x="182.06" y="52" font-size="16.44" fill="#000000" stroke="#000000" style="stroke-width:0" textLength="64.04" lengthAdjust="spacingAndGlyphs">Diagram</text>
<text x="255.96" y="52" font-size="16.16" fill="#000000" stroke="#000000" style="stroke-width:0" textLength="214.58" lengthAdjust="spacingAndGlyphs">2010−10−15/17:09:45.00</text>
<text x="476.12" y="52" font-size="16.44" fill="#000000" stroke="#000000" style="stroke-width:0" textLength="69.82" lengthAdjust="spacingAndGlyphs">(Lat/Lon</text>
<text x="554.54" y="52" font-size="16.16" fill="#000000" stroke="#000000" style="stroke-width:0" textLength="114.16" lengthAdjust="spacingAndGlyphs">57.21/152.57</text>
<text x="675.59" y="52" font-size="16.44" fill="#000000" stroke="#000000" style="stroke-width:0" textLength="36.58" lengthAdjust="spacingAndGlyphs">deg)</text>
<text x="112.86" y="66" font-size="10.77" fill="#ff0000" stroke="#ff0000" textLength="29.76" lengthAdjust="spacingAndGlyphs">−120</text>
<text x="180.68" y="66" font-size="10.77" fill="#ff0000" stroke="#ff0000" textLength="29.22" lengthAdjust="spacingAndGlyphs">−110</text>
<text x="248.15" y="66" font-size="10.77" fill="#ff0000" stroke="#ff0000" textLength="30.08" lengthAdjust="spacingAndGlyphs">−100</text>
<text x="322.84" y="66" font-size="10.77" fill="#ff0000" stroke="#ff0000" textLength="23.28" lengthAdjust="spacingAndGlyphs">−90</text>
<text x="390.96" y="66" font-size="10.77" fill="#ff0000" stroke="#ff0000" textLength="22.84" lengthAdjust="spacingAndGlyphs">−80</text>
<text x="458.9" y="66" font-size="10.77" fill="#ff0000" stroke="#ff0000" textLength="22.07" lengthAdjust="spacingAndGlyphs">−70</text>
<text x="525.76" y="66" font-size="10.77" fill="#ff0000" stroke="#ff0000" textLength="22.84" lengthAdjust="spacingAndGlyphs">−60</text>
<text x="593.29" y="66" font-size="10.77" fill="#ff0000" stroke="#ff0000" textLength="24.39" lengthAdjust="spacingAndGlyphs">−50</text>
<text x="661.67" y="66" font-size="10.77" fill="#ff0000" stroke="#ff0000" textLength="22.73" lengthAdjust="spacingAndGlyphs">−40</text>
<text x="47.4" y="75" font-size="10.77" fill="#000000" stroke="#000000" textLength="20.82" lengthAdjust="spacingAndGlyphs">100</text>
<text x="47.85" y="202" font-size="10.77" fill="#000000" stroke="#000000" textLength="20.35" lengthAdjust="spacingAndGlyphs">200</text>
<text x="47.8" y="276" font-size="10.77" fill="#000000" stroke="#000000" textLength="20.4" lengthAdjust="spacingAndGlyphs">300</text>
<text x="48.07" y="328" font-size="10.77" fill="#000000" stroke="#000000" textLength="20.11" lengthAdjust="spacingAndGlyphs">400</text>
<text x="47.54" y="369" font-size="10.77" fill="#000000" stroke="#000000" textLength="20.67" lengthAdjust="spacingAndGlyphs">500</text>
<text x="47.54" y="402" font-size="10.77" fill="#000000" stroke="#000000" textLength="20.67" lengthAdjust="spacingAndGlyphs">600</text>
<text x="47.71" y="430" font-size="10.77" fill="#000000" stroke="#000000" textLength="20.49" lengthAdjust="spacingAndGlyphs">700</text>
<text x="47.57" y="454" font-size="10.77" fill="#000000" stroke="#000000" textLength="20.64" lengthAdjust="spacingAndGlyphs">800</text>
<text x="47.54" y="476" font-size="10.77" fill="#000000" stroke="#000000" textLength="20.67" lengthAdjust="spacingAndGlyphs">900</text>
<text x="41.03" y="495" font-size="10.77" fill="#000000" stroke="#000000" textLength="27.16" lengthAdjust="spacingAndGlyphs">1000</text>
<text x="86.54" y="517" font-size="10.77" fill="#ff0000" stroke="#ff0000" textLength="23.28" lengthAdjust="spacingAndGlyphs">−50</text>
<text x="153.3" y="517" font-size="10.77" fill="#ff0000" stroke="#ff0000" textLength="24.06" lengthAdjust="spacingAndGlyphs">−40</text>
<text x="221.1" y="517" font-size="10.77" fill="#ff0000" stroke="#ff0000" textLength="24.06" lengthAdjust="spacingAndGlyphs">−30</text>
<text x="290.16" y="517" font-size="10.77" fill="#ff0000" stroke="#ff0000" textLength="22.84" lengthAdjust="spacingAndGlyphs">−20</text>
<text x="357.42" y="517" font-size="10.77" fill="#ff0000" stroke="#ff0000" textLength="23.72" lengthAdjust="spacingAndGlyphs">−10</text>
<text x="432.47" y="517" font-size="10.77" fill="#ff0000" stroke="#ff0000" textLength="8.72" lengthAdjust="spacingAndGlyphs">0</text>
<text x="496.99" y="517" font-size="10.77" fill="#ff0000" stroke="#ff0000" textLength="15.1" lengthAdjust="spacingAndGlyphs">10</text>
<text x="565.2" y="517" font-size="10.77" fill="#ff0000" stroke="#ff0000" textLength="14.56" lengthAdjust="spacingAndGlyphs">20</text>
<text x="633.14" y="517" font-size="10.77" fill="#ff0000" stroke="#ff0000" textLength="14.51" lengthAdjust="spacingAndGlyphs">30</text>
<text x="676.76" y="517" font-size="10.96" fill="#ff0000" stroke="#ff0000" textLength="22.65" lengthAdjust="spacingAndGlyphs">T(C)</text>
<text x="116.67" y="117" font-size="18.9" fill="#ff0000" stroke="#ff0000" style="stroke-width:0" textLength="73.75" lengthAdjust="spacingAndGlyphs">Ambient</text>
<text x="200.14" y="117" font-size="18.9" fill="#ff0000" stroke="#ff0000" style="stroke-width:0" textLength="21.07" lengthAdjust="spacingAndGlyphs">Air</text>
<text x="232.59" y="117" font-size="18.9" fill="#ff0000" stroke="#ff0000" style="stroke-width:0" textLength="48.88" lengthAdjust="spacingAndGlyphs">Temp</text>
<text x="116.58" y="138.2" font-size="18.08" fill="#0000ff" stroke="#0000ff" style="stroke-width:0" textLength="36.25" lengthAdjust="spacingAndGlyphs">Dew</text>
<text x="162.5" y="138.2" font-size="18.08" fill="#0000ff" stroke="#0000ff" style="stroke-width:0" textLength="46.6" lengthAdjust="spacingAndGlyphs">Point</text>
<text x="219.19" y="138.2" font-size="18.08" fill="#0000ff" stroke="#0000ff" style="stroke-width:0" textLength="49.09" lengthAdjust="spacingAndGlyphs">Temp</text>
<text x="116.16" y="159.8" font-size="18.08" fill="#5f00a0" stroke="#5f00a0" style="stroke-width:0" textLength="20.25" lengthAdjust="spacingAndGlyphs">Air</text>
<text x="148.87" y="159.8" font-size="18.08" fill="#5f00a0" stroke="#5f00a0" style="stroke-width:0" textLength="59.62" lengthAdjust="spacingAndGlyphs">Parcel</text>
<text x="216.08" y="159.8" font-size="18.08" fill="#5f00a0" stroke="#5f00a0" style="stroke-width:0" textLength="49.51" lengthAdjust="spacingAndGlyphs">Temp</text>
<text x="700.8" y="85" font-size="13.7" fill="#000000" stroke="#000000" textLength="45.54" lengthAdjust="spacingAndGlyphs">TP:100</text>
<text x="698.95" y="101" font-size="13.7" fill="#000000" stroke="#000000" textLength="52.41" lengthAdjust="spacingAndGlyphs">MW:N/A</text>
<text x="699.2" y="117" font-size="13.7" fill="#000000" stroke="#000000" textLength="54.82" lengthAdjust="spacingAndGlyphs">FRZ:999</text>
<text x="699.93" y="132" font-size="13.7" fill="#000000" stroke="#000000" textLength="56.34" lengthAdjust="spacingAndGlyphs">WB0:819</text>
<text x="699.18" y="148" font-size="13.7" fill="#000000" stroke="#000000" textLength="54.06" lengthAdjust="spacingAndGlyphs">PW:7.78</text>
<text x="699.16" y="164" font-size="13.7" fill="#000000" stroke="#000000" textLength="53.65" lengthAdjust="spacingAndGlyphs">RH:64.3</text>
<text x="698.77" y="179" font-size="13.7" fill="#000000" stroke="#000000" textLength="58.91" lengthAdjust="spacingAndGlyphs">MAXT:4.6</text>
<text x="700.31" y="195" font-size="13.7" fill="#000000" stroke="#000000" textLength="54.16" lengthAdjust="spacingAndGlyphs">TH:5463</text>
<text x="699.14" y="211" font-size="13.7" fill="#000000" stroke="#000000" textLength="51.05" lengthAdjust="spacingAndGlyphs">L57:7.2</text>
<text x="698.39" y="226" font-size="13.7" fill="#000000" stroke="#000000" textLength="61.75" lengthAdjust="spacingAndGlyphs">LCL:1020</text>
<text x="701.27" y="242" font-size="13.7" fill="#000000" stroke="#000000" textLength="36.88" lengthAdjust="spacingAndGlyphs">LI:5.0</text>
<text x="700.48" y="258" font-size="13.7" fill="#000000" stroke="#000000" textLength="38.67" lengthAdjust="spacingAndGlyphs">SI:6.3</text>
<text x="700" y="273" font-size="13.7" fill="#000000" stroke="#000000" textLength="48.22" lengthAdjust="spacingAndGlyphs">TT:50.2</text>
<text x="699.31" y="289" font-size="13.7" fill="#000000" stroke="#000000" textLength="44.29" lengthAdjust="spacingAndGlyphs">KI:278</text>
<text x="699.57" y="305" font-size="13.7" fill="#000000" stroke="#000000" textLength="49.98" lengthAdjust="spacingAndGlyphs">SW:N/A</text>
<text x="701.35" y="321" font-size="13.7" fill="#000000" stroke="#000000" textLength="36.13" lengthAdjust="spacingAndGlyphs">EI:0.1</text>
<text x="697.82" y="336" font-size="13.7" fill="#000000" stroke="#000000" textLength="71.38" lengthAdjust="spacingAndGlyphs">−PARCEL−</text>
<text x="699.73" y="352" font-size="13.7" fill="#000000" stroke="#000000" textLength="54.61" lengthAdjust="spacingAndGlyphs">CAPE:25</text>
<text x="700.67" y="368" font-size="13.7" fill="#000000" stroke="#000000" textLength="43.07" lengthAdjust="spacingAndGlyphs">CINH:1</text>
<text x="698.39" y="383" font-size="13.7" fill="#000000" stroke="#000000" textLength="61.75" lengthAdjust="spacingAndGlyphs">LCL:1020</text>
<text x="699.71" y="399" font-size="13.7" fill="#000000" stroke="#000000" textLength="51.64" lengthAdjust="spacingAndGlyphs">CAP:5.7</text>
<text x="699.17" y="415" font-size="13.7" fill="#000000" stroke="#000000" textLength="54.17" lengthAdjust="spacingAndGlyphs">LFC:989</text>
<text x="700.12" y="430" font-size="13.7" fill="#000000" stroke="#000000" textLength="44.29" lengthAdjust="spacingAndGlyphs">EL:861</text>
<text x="698.67" y="446" font-size="13.7" fill="#000000" stroke="#000000" textLength="56.77" lengthAdjust="spacingAndGlyphs">MPL:759</text>
<text x="699.85" y="462" font-size="13.7" fill="#000000" stroke="#000000" textLength="53.41" lengthAdjust="spacingAndGlyphs">−WIND−</text>
<text x="702.36" y="477" font-size="13.7" fill="#000000" stroke="#000000" textLength="25.69" lengthAdjust="spacingAndGlyphs">NOT</text>
<text x="701.94" y="493" font-size="13.7" fill="#000000" stroke="#000000" textLength="33.34" lengthAdjust="spacingAndGlyphs">AVAIL</text>
<text x="663.44" y="525.8" font-size="11.64" fill="#5f00a0" stroke="#5f00a0" textLength="45.86" lengthAdjust="spacingAndGlyphs">R(g/kg)</text>
<text transform="translate(141.82,522.92) rotate(-45)" x="-6.91" y="3.49" font-size="9.6" style="stroke-width:0.45px" fill="#5f00a0" stroke="#5f00a0" textLength="14.04" lengthAdjust="spacingAndGlyphs">0.1</text>
<text transform="translate(188.95,522.9) rotate(-45)" x="-8.22" y="3.49" font-size="9.6" style="stroke-width:0.45px" fill="#5f00a0" stroke="#5f00a0" textLength="16.54" lengthAdjust="spacingAndGlyphs">0.2</text>
<text transform="translate(254.1,522.65) rotate(-45)" x="-7.82" y="3.49" font-size="9.6" style="stroke-width:0.45px" fill="#5f00a0" stroke="#5f00a0" textLength="15.85" lengthAdjust="spacingAndGlyphs">0.5</text>
<text transform="translate(307.65,522.85) rotate(-45)" x="-3.02" y="3.5" font-size="9.6" style="stroke-width:0.45px" fill="#5f00a0" stroke="#5f00a0">1</text>
<text transform="translate(340.95,522.1) rotate(-45)" x="-7.71" y="3.43" font-size="9.6" style="stroke-width:0.45px" fill="#5f00a0" stroke="#5f00a0" textLength="15.42" lengthAdjust="spacingAndGlyphs">1.5</text>
<text transform="translate(365.7,523.8) rotate(-45)" x="-2.9" y="3.56" font-size="9.6" style="stroke-width:0.45px" fill="#5f00a0" stroke="#5f00a0">2</text>
<text transform="translate(400.05,522.95) rotate(-45)" x="-2.9" y="3.49" font-size="9.6" style="stroke-width:0.45px" fill="#5f00a0" stroke="#5f00a0">3</text>
<text transform="translate(427.9,522.35) rotate(-45)" x="-2.9" y="3.5" font-size="9.6" style="stroke-width:0.45px" fill="#5f00a0" stroke="#5f00a0">4</text>
<text transform="translate(465.55,522.95) rotate(-45)" x="-3.11" y="3.49" font-size="9.6" style="stroke-width:0.45px" fill="#5f00a0" stroke="#5f00a0">6</text>
<text transform="translate(494,523.1) rotate(-45)" x="-3.06" y="3.49" font-size="9.6" style="stroke-width:0.45px" fill="#5f00a0" stroke="#5f00a0">8</text>
<text transform="translate(516.4,522.55) rotate(-45)" x="-5.37" y="3.49" font-size="9.6" style="stroke-width:0.45px" fill="#5f00a0" stroke="#5f00a0" textLength="10.59" lengthAdjust="spacingAndGlyphs">10</text>
<text transform="translate(536.05,522.55) rotate(-45)" x="-5.76" y="3.56" font-size="9.6" style="stroke-width:0.45px" fill="#5f00a0" stroke="#5f00a0" textLength="11.42" lengthAdjust="spacingAndGlyphs">12</text>
<text transform="translate(559.15,522.55) rotate(-45)" x="-5.85" y="3.43" font-size="9.6" style="stroke-width:0.45px" fill="#5f00a0" stroke="#5f00a0" textLength="11.7" lengthAdjust="spacingAndGlyphs">15</text>
<text transform="translate(589.65,523.2) rotate(-45)" x="-6.37" y="3.49" font-size="9.6" style="stroke-width:0.45px" fill="#5f00a0" stroke="#5f00a0" textLength="12.96" lengthAdjust="spacingAndGlyphs">20</text>
<text transform="translate(614.1,523.3) rotate(-45)" x="-5.78" y="3.49" font-size="9.6" style="stroke-width:0.45px" fill="#5f00a0" stroke="#5f00a0" textLength="11.93" lengthAdjust="spacingAndGlyphs">25</text>
<text transform="translate(634.6,523.25) rotate(-45)" x="-5.86" y="3.49" font-size="9.6" style="stroke-width:0.45px" fill="#5f00a0" stroke="#5f00a0" textLength="11.88" lengthAdjust="spacingAndGlyphs">30</text>
<text transform="translate(670,523.2) rotate(-45)" x="-5.81" y="3.49" font-size="9.6" style="stroke-width:0.45px" fill="#5f00a0" stroke="#5f00a0" textLength="12.02" lengthAdjust="spacingAndGlyphs">40</text>
<text transform="translate(82.2,331.4) rotate(-90)" x="-1.62" y="0" font-size="13.97" fill="#000" stroke="#000" textLength="69.72" lengthAdjust="spacingAndGlyphs">PRESSURE</text>
<text transform="translate(82.2,255.9) rotate(-90)" x="-1.49" y="0" font-size="13.97" fill="#000" stroke="#000" textLength="31.08" lengthAdjust="spacingAndGlyphs">(MB)</text>
</g>
</svg></body></html>
